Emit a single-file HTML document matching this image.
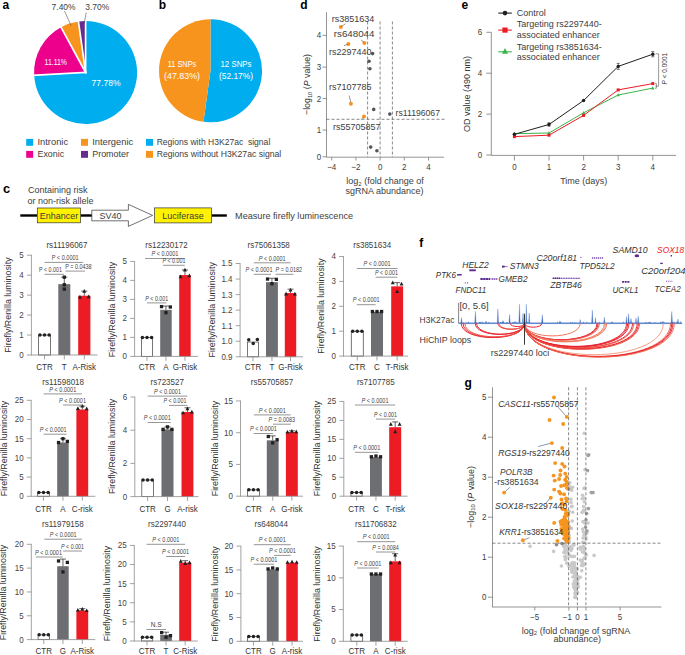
<!DOCTYPE html>
<html><head><meta charset="utf-8"><style>
html,body{margin:0;padding:0;background:#fff;}
svg{display:block;font-family:"Liberation Sans",sans-serif;}
</style></head><body>
<svg width="685" height="655" viewBox="0 0 685 655" fill="#333">
<text x="2.4" y="8.8" font-size="12" font-weight="bold" fill="#000">a</text>
<text x="158.8" y="8.8" font-size="12" font-weight="bold" fill="#000">b</text>
<text x="300.3" y="8.8" font-size="12" font-weight="bold" fill="#000">d</text>
<text x="461.5" y="8.6" font-size="12" font-weight="bold" fill="#000">e</text>
<text x="2.9" y="193" font-size="12.5" font-weight="bold" fill="#000" textLength="7.2" lengthAdjust="spacingAndGlyphs">c</text>
<text x="419.3" y="246.8" font-size="12" font-weight="bold" fill="#000">f</text>
<text x="464.6" y="386.6" font-size="12" font-weight="bold" fill="#000">g</text>
<path d="M85.6 72.5L85.6 21A51.5 51.5 0 1 1 34.17 75.2Z" fill="#00AEEF" stroke="none" stroke-width="0" stroke-linejoin="miter"/>
<path d="M85.6 72.5L34.17 75.2A51.5 51.5 0 0 1 61.03 27.24Z" fill="#EC008C" stroke="none" stroke-width="0" stroke-linejoin="miter"/>
<path d="M85.6 72.5L61.03 27.24A51.5 51.5 0 0 1 78.43 21.5Z" fill="#F7941D" stroke="none" stroke-width="0" stroke-linejoin="miter"/>
<path d="M85.6 72.5L78.43 21.5A51.5 51.5 0 0 1 85.6 21Z" fill="#662D91" stroke="none" stroke-width="0" stroke-linejoin="miter"/>
<line x1="85.6" y1="72.5" x2="85.6" y2="20" stroke="#fff" stroke-width="1.7" stroke-linecap="square"/>
<line x1="85.6" y1="72.5" x2="33.17" y2="75.25" stroke="#fff" stroke-width="1.7" stroke-linecap="square"/>
<line x1="85.6" y1="72.5" x2="60.55" y2="26.36" stroke="#fff" stroke-width="1.7" stroke-linecap="square"/>
<line x1="85.6" y1="72.5" x2="78.29" y2="20.51" stroke="#fff" stroke-width="1.7" stroke-linecap="square"/>
<text x="55.8" y="65.2" font-size="8.76" text-anchor="middle" fill="#fff" textLength="22.5" lengthAdjust="spacingAndGlyphs">11.11%</text>
<text x="106" y="85.5" font-size="8.76" text-anchor="middle" fill="#fff" textLength="29" lengthAdjust="spacingAndGlyphs">77.78%</text>
<text x="63.6" y="9.8" font-size="8.76" text-anchor="middle" fill="#3d3d3d" textLength="24" lengthAdjust="spacingAndGlyphs">7.40%</text>
<text x="97.2" y="9.8" font-size="8.76" text-anchor="middle" fill="#3d3d3d" textLength="24" lengthAdjust="spacingAndGlyphs">3.70%</text>
<line x1="64.5" y1="11" x2="71" y2="25.5" stroke="#333" stroke-width="0.5"/>
<line x1="86.2" y1="12.5" x2="84.2" y2="23.5" stroke="#333" stroke-width="0.5"/>
<rect x="26.2" y="138.9" width="7" height="6.9" fill="#00AEEF"/>
<text x="37.5" y="145.1" font-size="9.27" fill="#3d3d3d" textLength="30.6" lengthAdjust="spacingAndGlyphs">Intronic</text>
<rect x="26.2" y="150.9" width="7" height="6.9" fill="#EC008C"/>
<text x="37.5" y="157.1" font-size="9.27" fill="#3d3d3d" textLength="26.6" lengthAdjust="spacingAndGlyphs">Exonic</text>
<rect x="81" y="138.9" width="7" height="6.9" fill="#F7941D"/>
<text x="92.2" y="145.1" font-size="9.27" fill="#3d3d3d" textLength="41" lengthAdjust="spacingAndGlyphs">Intergenic</text>
<rect x="81" y="150.9" width="7" height="6.9" fill="#662D91"/>
<text x="92.2" y="157.1" font-size="9.27" fill="#3d3d3d" textLength="36.8" lengthAdjust="spacingAndGlyphs">Promoter</text>
<path d="M210.5 70.8L210.5 19.3A51.5 51.5 0 1 1 203.51 121.82Z" fill="#00AEEF" stroke="none" stroke-width="0" stroke-linejoin="miter"/>
<path d="M210.5 70.8L203.51 121.82A51.5 51.5 0 0 1 210.5 19.3Z" fill="#F7941D" stroke="none" stroke-width="0" stroke-linejoin="miter"/>
<text x="182" y="66.9" font-size="8.76" text-anchor="middle" fill="#fff" textLength="28.5" lengthAdjust="spacingAndGlyphs">11 SNPs</text>
<text x="182" y="79" font-size="8.76" text-anchor="middle" fill="#fff" textLength="36" lengthAdjust="spacingAndGlyphs">(47.83%)</text>
<text x="236" y="66.9" font-size="8.76" text-anchor="middle" fill="#fff" textLength="31" lengthAdjust="spacingAndGlyphs">12 SNPs</text>
<text x="236" y="79" font-size="8.76" text-anchor="middle" fill="#fff" textLength="34" lengthAdjust="spacingAndGlyphs">(52.17%)</text>
<rect x="146" y="138.9" width="7" height="6.9" fill="#00AEEF"/>
<text x="156.7" y="145.1" font-size="9.27" fill="#3d3d3d" textLength="113.6" lengthAdjust="spacingAndGlyphs">Regions with H3K27ac&#160; signal</text>
<rect x="146" y="150.9" width="7" height="6.9" fill="#F7941D"/>
<text x="156.7" y="157.1" font-size="9.27" fill="#3d3d3d" textLength="124.6" lengthAdjust="spacingAndGlyphs">Regions without H3K27ac signal</text>
<line x1="326.5" y1="12.2" x2="326.5" y2="157.2" stroke="#7a7a7a" stroke-width="0.8"/>
<line x1="326.5" y1="157.2" x2="444" y2="157.2" stroke="#7a7a7a" stroke-width="0.8"/>
<line x1="322.5" y1="35.4" x2="326.5" y2="35.4" stroke="#7a7a7a" stroke-width="0.8"/>
<text x="321.3" y="38.4" font-size="8.96" text-anchor="end" fill="#3d3d3d" textLength="4.45" lengthAdjust="spacingAndGlyphs">4</text>
<line x1="322.5" y1="67.1" x2="326.5" y2="67.1" stroke="#7a7a7a" stroke-width="0.8"/>
<text x="321.3" y="70.1" font-size="8.96" text-anchor="end" fill="#3d3d3d" textLength="4.45" lengthAdjust="spacingAndGlyphs">3</text>
<line x1="322.5" y1="98.6" x2="326.5" y2="98.6" stroke="#7a7a7a" stroke-width="0.8"/>
<text x="321.3" y="101.6" font-size="8.96" text-anchor="end" fill="#3d3d3d" textLength="4.45" lengthAdjust="spacingAndGlyphs">2</text>
<line x1="322.5" y1="130" x2="326.5" y2="130" stroke="#7a7a7a" stroke-width="0.8"/>
<text x="321.3" y="133" font-size="8.96" text-anchor="end" fill="#3d3d3d" textLength="4.45" lengthAdjust="spacingAndGlyphs">1</text>
<line x1="322.5" y1="156.8" x2="326.5" y2="156.8" stroke="#7a7a7a" stroke-width="0.8"/>
<text x="321.3" y="159.8" font-size="8.96" text-anchor="end" fill="#3d3d3d" textLength="4.45" lengthAdjust="spacingAndGlyphs">0</text>
<line x1="331.7" y1="157.2" x2="331.7" y2="160.5" stroke="#7a7a7a" stroke-width="0.8"/>
<text x="331.7" y="170" font-size="8.96" text-anchor="middle" fill="#3d3d3d" textLength="9.12" lengthAdjust="spacingAndGlyphs">−4</text>
<line x1="355.9" y1="157.2" x2="355.9" y2="160.5" stroke="#7a7a7a" stroke-width="0.8"/>
<text x="355.9" y="170" font-size="8.96" text-anchor="middle" fill="#3d3d3d" textLength="9.12" lengthAdjust="spacingAndGlyphs">−2</text>
<line x1="380.1" y1="157.2" x2="380.1" y2="160.5" stroke="#7a7a7a" stroke-width="0.8"/>
<text x="380.1" y="170" font-size="8.96" text-anchor="middle" fill="#3d3d3d" textLength="4.45" lengthAdjust="spacingAndGlyphs">0</text>
<line x1="404.3" y1="157.2" x2="404.3" y2="160.5" stroke="#7a7a7a" stroke-width="0.8"/>
<text x="404.3" y="170" font-size="8.96" text-anchor="middle" fill="#3d3d3d" textLength="4.45" lengthAdjust="spacingAndGlyphs">2</text>
<line x1="428.5" y1="157.2" x2="428.5" y2="160.5" stroke="#7a7a7a" stroke-width="0.8"/>
<text x="428.5" y="170" font-size="8.96" text-anchor="middle" fill="#3d3d3d" textLength="4.45" lengthAdjust="spacingAndGlyphs">4</text>
<line x1="367.6" y1="21.5" x2="367.6" y2="157" stroke="#555" stroke-width="0.7" stroke-dasharray="3 2"/>
<line x1="380.1" y1="21.5" x2="380.1" y2="157" stroke="#555" stroke-width="0.7" stroke-dasharray="3 2"/>
<line x1="392.4" y1="21.5" x2="392.4" y2="157" stroke="#555" stroke-width="0.7" stroke-dasharray="3 2"/>
<line x1="326.5" y1="119.3" x2="445" y2="119.3" stroke="#555" stroke-width="0.7" stroke-dasharray="3 2"/>
<circle cx="372.6" cy="53.6" r="1.8" fill="#555"/>
<circle cx="369" cy="61.2" r="1.8" fill="#555"/>
<circle cx="369.9" cy="68.7" r="1.8" fill="#555"/>
<circle cx="373.7" cy="109.4" r="1.8" fill="#555"/>
<circle cx="389.8" cy="114.1" r="1.8" fill="#555"/>
<circle cx="370.7" cy="147.1" r="1.8" fill="#555"/>
<circle cx="376.9" cy="150.8" r="1.8" fill="#555"/>
<circle cx="340.8" cy="27.1" r="2" fill="#F7941D"/>
<circle cx="348.4" cy="43.9" r="2" fill="#F7941D"/>
<circle cx="364.4" cy="43" r="2" fill="#F7941D"/>
<circle cx="350.9" cy="103.7" r="2" fill="#F7941D"/>
<circle cx="364" cy="116.6" r="2" fill="#F7941D"/>
<line x1="341.5" y1="26.5" x2="345.5" y2="23.7" stroke="#333" stroke-width="0.5"/>
<line x1="347.6" y1="44.5" x2="344" y2="45.6" stroke="#333" stroke-width="0.5"/>
<line x1="363.6" y1="42.3" x2="360.9" y2="39.8" stroke="#333" stroke-width="0.5"/>
<line x1="350.6" y1="102" x2="349.2" y2="95.5" stroke="#333" stroke-width="0.5"/>
<line x1="363" y1="117.5" x2="361" y2="119.5" stroke="#333" stroke-width="0.5"/>
<text x="331.7" y="21.9" font-size="9.27" fill="#3d3d3d" textLength="42.53" lengthAdjust="spacingAndGlyphs">rs3851634</text>
<text x="333.8" y="37.1" font-size="9.27" fill="#3d3d3d" textLength="40.6" lengthAdjust="spacingAndGlyphs">rs648044</text>
<text x="329.1" y="54.6" font-size="9.27" fill="#3d3d3d" textLength="42.53" lengthAdjust="spacingAndGlyphs">rs2297440</text>
<text x="329" y="90.2" font-size="9.27" fill="#3d3d3d" textLength="42.53" lengthAdjust="spacingAndGlyphs">rs7107785</text>
<text x="333" y="129.7" font-size="9.27" fill="#3d3d3d" textLength="47.54" lengthAdjust="spacingAndGlyphs">rs55705857</text>
<text x="395.6" y="116" font-size="9.27" fill="#3d3d3d" textLength="44.4" lengthAdjust="spacingAndGlyphs">rs11196067</text>
<text transform="translate(310.2 84.5) rotate(-90)" font-size="9.2" text-anchor="middle" fill="#333" textLength="61" lengthAdjust="spacingAndGlyphs">−log<tspan font-size="6" dy="1.5">10</tspan><tspan dy="-1.5"> (</tspan><tspan font-style="italic">P</tspan> value)</text>
<text x="385" y="184" font-size="9" text-anchor="middle" fill="#3d3d3d">log<tspan font-size="6" dy="1.5">2</tspan><tspan dy="-1.5"> (fold change of</tspan></text>
<text x="384.6" y="193.5" font-size="9.27" text-anchor="middle" fill="#3d3d3d" textLength="78.05" lengthAdjust="spacingAndGlyphs">sgRNA abundance)</text>
<line x1="491.3" y1="32.3" x2="491.3" y2="155.4" stroke="#7a7a7a" stroke-width="0.8"/>
<line x1="491.3" y1="155.4" x2="676" y2="155.4" stroke="#7a7a7a" stroke-width="0.8"/>
<line x1="486.3" y1="155" x2="491.3" y2="155" stroke="#7a7a7a" stroke-width="0.8"/>
<text x="482.3" y="158" font-size="8.96" text-anchor="end" fill="#3d3d3d" textLength="4.45" lengthAdjust="spacingAndGlyphs">0</text>
<line x1="486.3" y1="114.1" x2="491.3" y2="114.1" stroke="#7a7a7a" stroke-width="0.8"/>
<text x="482.3" y="117.1" font-size="8.96" text-anchor="end" fill="#3d3d3d" textLength="4.45" lengthAdjust="spacingAndGlyphs">2</text>
<line x1="486.3" y1="73.2" x2="491.3" y2="73.2" stroke="#7a7a7a" stroke-width="0.8"/>
<text x="482.3" y="76.2" font-size="8.96" text-anchor="end" fill="#3d3d3d" textLength="4.45" lengthAdjust="spacingAndGlyphs">4</text>
<line x1="486.3" y1="32.3" x2="491.3" y2="32.3" stroke="#7a7a7a" stroke-width="0.8"/>
<text x="482.3" y="35.3" font-size="8.96" text-anchor="end" fill="#3d3d3d" textLength="4.45" lengthAdjust="spacingAndGlyphs">6</text>
<line x1="514.4" y1="155.4" x2="514.4" y2="160.5" stroke="#7a7a7a" stroke-width="0.8"/>
<text x="514.4" y="169.8" font-size="8.96" text-anchor="middle" fill="#3d3d3d" textLength="4.45" lengthAdjust="spacingAndGlyphs">0</text>
<line x1="549" y1="155.4" x2="549" y2="160.5" stroke="#7a7a7a" stroke-width="0.8"/>
<text x="549" y="169.8" font-size="8.96" text-anchor="middle" fill="#3d3d3d" textLength="4.45" lengthAdjust="spacingAndGlyphs">1</text>
<line x1="583.6" y1="155.4" x2="583.6" y2="160.5" stroke="#7a7a7a" stroke-width="0.8"/>
<text x="583.6" y="169.8" font-size="8.96" text-anchor="middle" fill="#3d3d3d" textLength="4.45" lengthAdjust="spacingAndGlyphs">2</text>
<line x1="618.2" y1="155.4" x2="618.2" y2="160.5" stroke="#7a7a7a" stroke-width="0.8"/>
<text x="618.2" y="169.8" font-size="8.96" text-anchor="middle" fill="#3d3d3d" textLength="4.45" lengthAdjust="spacingAndGlyphs">3</text>
<line x1="652.8" y1="155.4" x2="652.8" y2="160.5" stroke="#7a7a7a" stroke-width="0.8"/>
<text x="652.8" y="169.8" font-size="8.96" text-anchor="middle" fill="#3d3d3d" textLength="4.45" lengthAdjust="spacingAndGlyphs">4</text>
<text x="583.8" y="184.2" font-size="9.27" text-anchor="middle" fill="#3d3d3d" textLength="47.17" lengthAdjust="spacingAndGlyphs">Time (days)</text>
<text transform="translate(469.5 94) rotate(-90)" font-size="9" text-anchor="middle" fill="#333">OD value (490 nm)</text>
<polyline points="514.4,133.7 549,133 583.6,112.8 618.2,95 652.8,88.1" fill="none" stroke="#39B54A" stroke-width="1"/>
<polyline points="514.4,136.6 549,135.2 583.6,115.4 618.2,89.9 652.8,83.6" fill="none" stroke="#ED1C24" stroke-width="1"/>
<polyline points="514.4,134.3 549,124.5 583.6,100.5 618.2,66.4 652.8,54.2" fill="none" stroke="#231F20" stroke-width="1"/>
<path d="M514.4 131.83L516.1 135.06L512.7 135.06Z" fill="#39B54A"/>
<path d="M549 131.13L550.7 134.36L547.3 134.36Z" fill="#39B54A"/>
<path d="M583.6 110.93L585.3 114.16L581.9 114.16Z" fill="#39B54A"/>
<path d="M618.2 93.13L619.9 96.36L616.5 96.36Z" fill="#39B54A"/>
<path d="M652.8 86.23L654.5 89.46L651.1 89.46Z" fill="#39B54A"/>
<rect x="512.9" y="135.1" width="3" height="3" fill="#ED1C24"/>
<rect x="547.5" y="133.7" width="3" height="3" fill="#ED1C24"/>
<rect x="582.1" y="113.9" width="3" height="3" fill="#ED1C24"/>
<rect x="616.7" y="88.4" width="3" height="3" fill="#ED1C24"/>
<rect x="651.3" y="82.1" width="3" height="3" fill="#ED1C24"/>
<circle cx="514.4" cy="134.3" r="1.7" fill="#231F20"/>
<circle cx="549" cy="124.5" r="1.7" fill="#231F20"/>
<circle cx="583.6" cy="100.5" r="1.7" fill="#231F20"/>
<circle cx="618.2" cy="66.4" r="1.7" fill="#231F20"/>
<circle cx="652.8" cy="54.2" r="1.7" fill="#231F20"/>
<line x1="618.2" y1="63.4" x2="618.2" y2="69.4" stroke="#231F20" stroke-width="0.6"/>
<line x1="616.7" y1="63.4" x2="619.7" y2="63.4" stroke="#231F20" stroke-width="0.6"/>
<line x1="616.7" y1="69.4" x2="619.7" y2="69.4" stroke="#231F20" stroke-width="0.6"/>
<line x1="652.8" y1="51.6" x2="652.8" y2="56.8" stroke="#231F20" stroke-width="0.6"/>
<line x1="651.3" y1="51.6" x2="654.3" y2="51.6" stroke="#231F20" stroke-width="0.6"/>
<line x1="651.3" y1="56.8" x2="654.3" y2="56.8" stroke="#231F20" stroke-width="0.6"/>
<line x1="549" y1="122.8" x2="549" y2="126.2" stroke="#231F20" stroke-width="0.6"/>
<line x1="547.5" y1="122.8" x2="550.5" y2="122.8" stroke="#231F20" stroke-width="0.6"/>
<line x1="547.5" y1="126.2" x2="550.5" y2="126.2" stroke="#231F20" stroke-width="0.6"/>
<line x1="655.5" y1="53.8" x2="658.6" y2="53.8" stroke="#555" stroke-width="0.6"/>
<line x1="658.6" y1="53.8" x2="658.6" y2="86.2" stroke="#555" stroke-width="0.6"/>
<line x1="655.5" y1="86.2" x2="658.6" y2="86.2" stroke="#555" stroke-width="0.6"/>
<line x1="655" y1="83.6" x2="656.4" y2="83.6" stroke="#555" stroke-width="0.6"/>
<line x1="656.4" y1="83.6" x2="656.4" y2="88.2" stroke="#555" stroke-width="0.6"/>
<line x1="655" y1="88.2" x2="656.4" y2="88.2" stroke="#555" stroke-width="0.6"/>
<text transform="translate(666.8 68.7) rotate(-90)" font-size="6.5" text-anchor="middle" fill="#333"><tspan font-style="italic">P</tspan> &lt; 0.0001</text>
<line x1="498.3" y1="13.1" x2="511.8" y2="13.1" stroke="#231F20" stroke-width="1.1"/>
<circle cx="505" cy="13.1" r="2.3" fill="#231F20"/>
<text x="516.7" y="16.3" font-size="9.27" fill="#3d3d3d" textLength="29.01" lengthAdjust="spacingAndGlyphs">Control</text>
<line x1="498.3" y1="30.1" x2="511.8" y2="30.1" stroke="#ED1C24" stroke-width="1.1"/>
<rect x="502.4" y="27.5" width="5.2" height="5.2" fill="#ED1C24"/>
<text x="516.7" y="27.3" font-size="9.27" fill="#3d3d3d" textLength="85.06" lengthAdjust="spacingAndGlyphs">Targeting rs2297440-</text>
<text x="516.7" y="38" font-size="9.27" fill="#3d3d3d" textLength="83.06" lengthAdjust="spacingAndGlyphs">associated enhancer</text>
<line x1="498.3" y1="51.8" x2="511.8" y2="51.8" stroke="#39B54A" stroke-width="1.1"/>
<path d="M505 48.1L508 53.8L502 53.8Z" fill="#39B54A"/>
<text x="516.7" y="49.5" font-size="9.27" fill="#3d3d3d" textLength="85.06" lengthAdjust="spacingAndGlyphs">Targeting rs3851634-</text>
<text x="516.7" y="60.2" font-size="9.27" fill="#3d3d3d" textLength="83.06" lengthAdjust="spacingAndGlyphs">associated enhancer</text>
<text x="28" y="193" font-size="9.27" fill="#3d3d3d" textLength="59.53" lengthAdjust="spacingAndGlyphs">Containing risk</text>
<text x="27.4" y="203.5" font-size="9.27" fill="#3d3d3d" textLength="66.03" lengthAdjust="spacingAndGlyphs">or non-risk allele</text>
<line x1="20.3" y1="215.5" x2="37" y2="215.5" stroke="#000" stroke-width="2.4"/>
<line x1="80.7" y1="215.5" x2="92" y2="215.5" stroke="#000" stroke-width="2.4"/>
<line x1="211.8" y1="215.5" x2="226.8" y2="215.5" stroke="#000" stroke-width="2.4"/>
<rect x="37.3" y="208" width="43.2" height="14.8" fill="#FFF200" stroke="#333" stroke-width="0.7"/>
<text x="58.9" y="219.2" font-size="9.27" text-anchor="middle" fill="#3d3d3d" textLength="38.53" lengthAdjust="spacingAndGlyphs">Enhancer</text>
<path d="M91.8 210.2H128.4V204.4L152.6 215.4L128.4 226.4V220.8H91.8Z" fill="#fff" stroke="#333" stroke-width="0.7"/>
<text x="110.5" y="219" font-size="9.27" text-anchor="middle" fill="#3d3d3d" textLength="22.02" lengthAdjust="spacingAndGlyphs">SV40</text>
<rect x="154.6" y="207.9" width="57" height="15" fill="#FFF200" stroke="#333" stroke-width="0.7"/>
<text x="183.1" y="219.2" font-size="9.27" text-anchor="middle" fill="#3d3d3d" textLength="41.52" lengthAdjust="spacingAndGlyphs">Luciferase</text>
<text x="235.1" y="218.9" font-size="9.27" fill="#3d3d3d" textLength="118" lengthAdjust="spacingAndGlyphs">Measure firefly luminescence</text>
<rect x="38.6" y="335.04" width="11.9" height="19.96" fill="#fff" stroke="#555" stroke-width="0.8"/>
<rect x="58.3" y="284.14" width="12" height="70.86" fill="#6D6E71"/>
<rect x="78.2" y="295.72" width="12.2" height="59.28" fill="#ED1C24"/>
<circle cx="39.95" cy="335.04" r="1.75" fill="#231F20"/>
<circle cx="44.55" cy="335.04" r="1.75" fill="#231F20"/>
<circle cx="49.15" cy="335.04" r="1.75" fill="#231F20"/>
<line x1="64.3" y1="284.14" x2="64.3" y2="277.16" stroke="#231F20" stroke-width="0.7"/>
<line x1="61.3" y1="277.16" x2="67.3" y2="277.16" stroke="#231F20" stroke-width="0.7"/>
<rect x="62.65" y="275.51" width="3.3" height="3.3" fill="#231F20"/>
<rect x="62.65" y="283.09" width="3.3" height="3.3" fill="#231F20"/>
<rect x="62.65" y="287.48" width="3.3" height="3.3" fill="#231F20"/>
<line x1="84.3" y1="295.72" x2="84.3" y2="291.13" stroke="#231F20" stroke-width="0.7"/>
<line x1="81.3" y1="291.13" x2="87.3" y2="291.13" stroke="#231F20" stroke-width="0.7"/>
<path d="M84.3 288.98L86.25 292.69L82.35 292.69Z" fill="#231F20"/>
<path d="M79.9 294.97L81.85 298.68L77.95 298.68Z" fill="#231F20"/>
<path d="M88.7 294.57L90.65 298.28L86.75 298.28Z" fill="#231F20"/>
<line x1="31.4" y1="254.8" x2="31.4" y2="355.4" stroke="#8C8C8C" stroke-width="0.8"/>
<line x1="31.4" y1="355" x2="97.5" y2="355" stroke="#8C8C8C" stroke-width="0.8"/>
<line x1="27" y1="355" x2="31.4" y2="355" stroke="#8C8C8C" stroke-width="0.8"/>
<text x="23.8" y="357.9" font-size="8.96" text-anchor="end" fill="#444" textLength="4.45" lengthAdjust="spacingAndGlyphs">0</text>
<line x1="27" y1="335.04" x2="31.4" y2="335.04" stroke="#8C8C8C" stroke-width="0.8"/>
<text x="23.8" y="337.94" font-size="8.96" text-anchor="end" fill="#444" textLength="4.45" lengthAdjust="spacingAndGlyphs">1</text>
<line x1="27" y1="315.08" x2="31.4" y2="315.08" stroke="#8C8C8C" stroke-width="0.8"/>
<text x="23.8" y="317.98" font-size="8.96" text-anchor="end" fill="#444" textLength="4.45" lengthAdjust="spacingAndGlyphs">2</text>
<line x1="27" y1="295.12" x2="31.4" y2="295.12" stroke="#8C8C8C" stroke-width="0.8"/>
<text x="23.8" y="298.02" font-size="8.96" text-anchor="end" fill="#444" textLength="4.45" lengthAdjust="spacingAndGlyphs">3</text>
<line x1="27" y1="275.16" x2="31.4" y2="275.16" stroke="#8C8C8C" stroke-width="0.8"/>
<text x="23.8" y="278.06" font-size="8.96" text-anchor="end" fill="#444" textLength="4.45" lengthAdjust="spacingAndGlyphs">4</text>
<line x1="27" y1="255.2" x2="31.4" y2="255.2" stroke="#8C8C8C" stroke-width="0.8"/>
<text x="23.8" y="258.1" font-size="8.96" text-anchor="end" fill="#444" textLength="4.45" lengthAdjust="spacingAndGlyphs">5</text>
<line x1="44.55" y1="355" x2="44.55" y2="359.4" stroke="#8C8C8C" stroke-width="0.8"/>
<text x="44.55" y="370" font-size="8.96" text-anchor="middle" fill="#333" textLength="16.44" lengthAdjust="spacingAndGlyphs">CTR</text>
<line x1="64.3" y1="355" x2="64.3" y2="359.4" stroke="#8C8C8C" stroke-width="0.8"/>
<text x="64.3" y="370" font-size="8.96" text-anchor="middle" fill="#333" textLength="4.89" lengthAdjust="spacingAndGlyphs">T</text>
<line x1="84.3" y1="355" x2="84.3" y2="359.4" stroke="#8C8C8C" stroke-width="0.8"/>
<text x="84.3" y="370" font-size="8.96" text-anchor="middle" fill="#333" textLength="23.55" lengthAdjust="spacingAndGlyphs">A-Risk</text>
<text x="67" y="248" font-size="8.96" text-anchor="middle" fill="#3d3d3d" textLength="41.07" lengthAdjust="spacingAndGlyphs">rs11196067</text>
<text transform="translate(10.8 305) rotate(-90)" font-size="8.85" text-anchor="middle" fill="#333">Firefly/Renilla luminosity</text>
<line x1="44.5" y1="262.4" x2="83.2" y2="262.4" stroke="#8a8a8a" stroke-width="0.9"/>
<text x="65.2" y="260.1" font-size="6.72" text-anchor="middle" fill="#444" textLength="27" lengthAdjust="spacingAndGlyphs">P < 0.0001</text>
<line x1="44.5" y1="274.3" x2="63.9" y2="274.3" stroke="#8a8a8a" stroke-width="0.9"/>
<text x="50.5" y="272" font-size="6.72" text-anchor="middle" fill="#444" textLength="23" lengthAdjust="spacingAndGlyphs">P < 0.001</text>
<line x1="65.5" y1="271.1" x2="85" y2="271.1" stroke="#8a8a8a" stroke-width="0.9"/>
<text x="78.4" y="268.8" font-size="6.72" text-anchor="middle" fill="#444" textLength="26.5" lengthAdjust="spacingAndGlyphs">P = 0.0438</text>
<rect x="141.5" y="337.4" width="11" height="19" fill="#fff" stroke="#555" stroke-width="0.8"/>
<rect x="160.2" y="309.85" width="11.5" height="46.55" fill="#6D6E71"/>
<rect x="179.2" y="275.08" width="11.5" height="81.32" fill="#ED1C24"/>
<circle cx="142.4" cy="337.4" r="1.75" fill="#231F20"/>
<circle cx="147" cy="337.4" r="1.75" fill="#231F20"/>
<circle cx="151.6" cy="337.4" r="1.75" fill="#231F20"/>
<line x1="165.95" y1="309.85" x2="165.95" y2="306.05" stroke="#231F20" stroke-width="0.7"/>
<line x1="162.95" y1="306.05" x2="168.95" y2="306.05" stroke="#231F20" stroke-width="0.7"/>
<rect x="159.9" y="304.97" width="3.3" height="3.3" fill="#231F20"/>
<rect x="168.7" y="305.35" width="3.3" height="3.3" fill="#231F20"/>
<rect x="164.3" y="311.05" width="3.3" height="3.3" fill="#231F20"/>
<line x1="184.95" y1="275.08" x2="184.95" y2="269.95" stroke="#231F20" stroke-width="0.7"/>
<line x1="181.95" y1="269.95" x2="187.95" y2="269.95" stroke="#231F20" stroke-width="0.7"/>
<path d="M184.95 267.81L186.9 271.51L183 271.51Z" fill="#231F20"/>
<path d="M180.55 274.45L182.5 278.16L178.6 278.16Z" fill="#231F20"/>
<path d="M189.35 273.5L191.3 277.21L187.4 277.21Z" fill="#231F20"/>
<line x1="134.6" y1="261" x2="134.6" y2="356.8" stroke="#8C8C8C" stroke-width="0.8"/>
<line x1="134.6" y1="356.4" x2="198" y2="356.4" stroke="#8C8C8C" stroke-width="0.8"/>
<line x1="130.2" y1="356.4" x2="134.6" y2="356.4" stroke="#8C8C8C" stroke-width="0.8"/>
<text x="127" y="359.3" font-size="8.96" text-anchor="end" fill="#444" textLength="4.45" lengthAdjust="spacingAndGlyphs">0</text>
<line x1="130.2" y1="337.4" x2="134.6" y2="337.4" stroke="#8C8C8C" stroke-width="0.8"/>
<text x="127" y="340.3" font-size="8.96" text-anchor="end" fill="#444" textLength="4.45" lengthAdjust="spacingAndGlyphs">1</text>
<line x1="130.2" y1="318.4" x2="134.6" y2="318.4" stroke="#8C8C8C" stroke-width="0.8"/>
<text x="127" y="321.3" font-size="8.96" text-anchor="end" fill="#444" textLength="4.45" lengthAdjust="spacingAndGlyphs">2</text>
<line x1="130.2" y1="299.4" x2="134.6" y2="299.4" stroke="#8C8C8C" stroke-width="0.8"/>
<text x="127" y="302.3" font-size="8.96" text-anchor="end" fill="#444" textLength="4.45" lengthAdjust="spacingAndGlyphs">3</text>
<line x1="130.2" y1="280.4" x2="134.6" y2="280.4" stroke="#8C8C8C" stroke-width="0.8"/>
<text x="127" y="283.3" font-size="8.96" text-anchor="end" fill="#444" textLength="4.45" lengthAdjust="spacingAndGlyphs">4</text>
<line x1="130.2" y1="261.4" x2="134.6" y2="261.4" stroke="#8C8C8C" stroke-width="0.8"/>
<text x="127" y="264.3" font-size="8.96" text-anchor="end" fill="#444" textLength="4.45" lengthAdjust="spacingAndGlyphs">5</text>
<line x1="147" y1="356.4" x2="147" y2="360.8" stroke="#8C8C8C" stroke-width="0.8"/>
<text x="147" y="370.2" font-size="8.96" text-anchor="middle" fill="#333" textLength="16.44" lengthAdjust="spacingAndGlyphs">CTR</text>
<line x1="165.95" y1="356.4" x2="165.95" y2="360.8" stroke="#8C8C8C" stroke-width="0.8"/>
<text x="165.95" y="370.2" font-size="8.96" text-anchor="middle" fill="#333" textLength="5.34" lengthAdjust="spacingAndGlyphs">A</text>
<line x1="184.95" y1="356.4" x2="184.95" y2="360.8" stroke="#8C8C8C" stroke-width="0.8"/>
<text x="184.95" y="370.2" font-size="8.96" text-anchor="middle" fill="#333" textLength="24.44" lengthAdjust="spacingAndGlyphs">G-Risk</text>
<text x="166.5" y="248" font-size="8.96" text-anchor="middle" fill="#3d3d3d" textLength="42.26" lengthAdjust="spacingAndGlyphs">rs12230172</text>
<text transform="translate(115.3 309.5) rotate(-90)" font-size="8.85" text-anchor="middle" fill="#333">Firefly/Renilla luminosity</text>
<line x1="145" y1="258.5" x2="184.8" y2="258.5" stroke="#8a8a8a" stroke-width="0.9"/>
<text x="164.9" y="256.2" font-size="6.72" text-anchor="middle" fill="#444" textLength="27" lengthAdjust="spacingAndGlyphs"><tspan font-style="italic">P</tspan> < 0.0001</text>
<line x1="163" y1="265.3" x2="184.8" y2="265.3" stroke="#8a8a8a" stroke-width="0.9"/>
<text x="173.9" y="263" font-size="6.72" text-anchor="middle" fill="#444" textLength="23" lengthAdjust="spacingAndGlyphs"><tspan font-style="italic">P</tspan> < 0.001</text>
<line x1="147" y1="302.9" x2="166.5" y2="302.9" stroke="#8a8a8a" stroke-width="0.9"/>
<text x="156.75" y="300.6" font-size="6.72" text-anchor="middle" fill="#444" textLength="23" lengthAdjust="spacingAndGlyphs"><tspan font-style="italic">P</tspan> < 0.001</text>
<rect x="247.4" y="342.03" width="11.1" height="14.77" fill="#fff" stroke="#555" stroke-width="0.8"/>
<rect x="266" y="282.16" width="11.9" height="74.64" fill="#6D6E71"/>
<rect x="284.8" y="293.05" width="11.4" height="63.75" fill="#ED1C24"/>
<circle cx="248.75" cy="339.69" r="1.75" fill="#231F20"/>
<circle cx="257.35" cy="339.38" r="1.75" fill="#231F20"/>
<circle cx="253.25" cy="343.58" r="1.75" fill="#231F20"/>
<line x1="271.95" y1="282.16" x2="271.95" y2="278.27" stroke="#231F20" stroke-width="0.7"/>
<line x1="268.95" y1="278.27" x2="274.95" y2="278.27" stroke="#231F20" stroke-width="0.7"/>
<rect x="265.9" y="277.4" width="3.3" height="3.3" fill="#231F20"/>
<rect x="274.7" y="277.71" width="3.3" height="3.3" fill="#231F20"/>
<rect x="270.3" y="282.07" width="3.3" height="3.3" fill="#231F20"/>
<line x1="290.5" y1="293.05" x2="290.5" y2="289.16" stroke="#231F20" stroke-width="0.7"/>
<line x1="287.5" y1="289.16" x2="293.5" y2="289.16" stroke="#231F20" stroke-width="0.7"/>
<path d="M290.5 287.79L292.45 291.5L288.55 291.5Z" fill="#231F20"/>
<path d="M286.1 291.68L288.05 295.38L284.15 295.38Z" fill="#231F20"/>
<path d="M294.9 291.68L296.85 295.38L292.95 295.38Z" fill="#231F20"/>
<line x1="240.1" y1="263.1" x2="240.1" y2="357.2" stroke="#8C8C8C" stroke-width="0.8"/>
<line x1="240.1" y1="356.8" x2="303" y2="356.8" stroke="#8C8C8C" stroke-width="0.8"/>
<line x1="235.7" y1="356.8" x2="240.1" y2="356.8" stroke="#8C8C8C" stroke-width="0.8"/>
<text x="232.5" y="359.7" font-size="8.96" text-anchor="end" fill="#444" textLength="11.12" lengthAdjust="spacingAndGlyphs">0.9</text>
<line x1="235.7" y1="341.25" x2="240.1" y2="341.25" stroke="#8C8C8C" stroke-width="0.8"/>
<text x="232.5" y="344.15" font-size="8.96" text-anchor="end" fill="#444" textLength="11.12" lengthAdjust="spacingAndGlyphs">1.0</text>
<line x1="235.7" y1="325.7" x2="240.1" y2="325.7" stroke="#8C8C8C" stroke-width="0.8"/>
<text x="232.5" y="328.6" font-size="8.96" text-anchor="end" fill="#444" textLength="11.12" lengthAdjust="spacingAndGlyphs">1.1</text>
<line x1="235.7" y1="310.15" x2="240.1" y2="310.15" stroke="#8C8C8C" stroke-width="0.8"/>
<text x="232.5" y="313.05" font-size="8.96" text-anchor="end" fill="#444" textLength="11.12" lengthAdjust="spacingAndGlyphs">1.2</text>
<line x1="235.7" y1="294.6" x2="240.1" y2="294.6" stroke="#8C8C8C" stroke-width="0.8"/>
<text x="232.5" y="297.5" font-size="8.96" text-anchor="end" fill="#444" textLength="11.12" lengthAdjust="spacingAndGlyphs">1.3</text>
<line x1="235.7" y1="279.05" x2="240.1" y2="279.05" stroke="#8C8C8C" stroke-width="0.8"/>
<text x="232.5" y="281.95" font-size="8.96" text-anchor="end" fill="#444" textLength="11.12" lengthAdjust="spacingAndGlyphs">1.4</text>
<line x1="235.7" y1="263.5" x2="240.1" y2="263.5" stroke="#8C8C8C" stroke-width="0.8"/>
<text x="232.5" y="266.4" font-size="8.96" text-anchor="end" fill="#444" textLength="11.12" lengthAdjust="spacingAndGlyphs">1.5</text>
<line x1="252.95" y1="356.8" x2="252.95" y2="361.2" stroke="#8C8C8C" stroke-width="0.8"/>
<text x="252.95" y="370.2" font-size="8.96" text-anchor="middle" fill="#333" textLength="16.44" lengthAdjust="spacingAndGlyphs">CTR</text>
<line x1="271.95" y1="356.8" x2="271.95" y2="361.2" stroke="#8C8C8C" stroke-width="0.8"/>
<text x="271.95" y="370.2" font-size="8.96" text-anchor="middle" fill="#333" textLength="4.89" lengthAdjust="spacingAndGlyphs">T</text>
<line x1="290.5" y1="356.8" x2="290.5" y2="361.2" stroke="#8C8C8C" stroke-width="0.8"/>
<text x="290.5" y="370.2" font-size="8.96" text-anchor="middle" fill="#333" textLength="24.44" lengthAdjust="spacingAndGlyphs">G-Risk</text>
<text x="268.7" y="248" font-size="8.96" text-anchor="middle" fill="#3d3d3d" textLength="42.26" lengthAdjust="spacingAndGlyphs">rs75061358</text>
<text transform="translate(215.2 309.8) rotate(-90)" font-size="8.85" text-anchor="middle" fill="#333">Firefly/Renilla luminosity</text>
<line x1="253.8" y1="262.8" x2="290.5" y2="262.8" stroke="#8a8a8a" stroke-width="0.9"/>
<text x="272.15" y="260.5" font-size="6.72" text-anchor="middle" fill="#444" textLength="27" lengthAdjust="spacingAndGlyphs"><tspan font-style="italic">P</tspan> < 0.0001</text>
<line x1="253.8" y1="274.3" x2="271" y2="274.3" stroke="#8a8a8a" stroke-width="0.9"/>
<text x="259" y="272" font-size="6.72" text-anchor="middle" fill="#444" textLength="27" lengthAdjust="spacingAndGlyphs"><tspan font-style="italic">P</tspan> < 0.0001</text>
<line x1="275.6" y1="274.3" x2="293.5" y2="274.3" stroke="#8a8a8a" stroke-width="0.9"/>
<text x="288.8" y="272" font-size="6.72" text-anchor="middle" fill="#444" textLength="26.5" lengthAdjust="spacingAndGlyphs"><tspan font-style="italic">P</tspan> = 0.0182</text>
<rect x="351.3" y="331.2" width="12" height="24.9" fill="#fff" stroke="#555" stroke-width="0.8"/>
<rect x="371" y="311.78" width="12" height="44.32" fill="#6D6E71"/>
<rect x="391.2" y="286.38" width="11.9" height="69.72" fill="#ED1C24"/>
<circle cx="352.7" cy="331.2" r="1.75" fill="#231F20"/>
<circle cx="357.3" cy="331.2" r="1.75" fill="#231F20"/>
<circle cx="361.9" cy="331.2" r="1.75" fill="#231F20"/>
<rect x="370.75" y="309.88" width="3.3" height="3.3" fill="#231F20"/>
<rect x="375.35" y="309.88" width="3.3" height="3.3" fill="#231F20"/>
<rect x="379.95" y="309.88" width="3.3" height="3.3" fill="#231F20"/>
<line x1="397.15" y1="286.38" x2="397.15" y2="282.65" stroke="#231F20" stroke-width="0.7"/>
<line x1="394.15" y1="282.65" x2="400.15" y2="282.65" stroke="#231F20" stroke-width="0.7"/>
<path d="M392.75 280.5L394.7 284.21L390.8 284.21Z" fill="#231F20"/>
<path d="M401.55 281.75L403.5 285.45L399.6 285.45Z" fill="#231F20"/>
<path d="M397.15 289.22L399.1 292.92L395.2 292.92Z" fill="#231F20"/>
<line x1="343.5" y1="256.1" x2="343.5" y2="356.5" stroke="#8C8C8C" stroke-width="0.8"/>
<line x1="343.5" y1="356.1" x2="408" y2="356.1" stroke="#8C8C8C" stroke-width="0.8"/>
<line x1="339.1" y1="356.1" x2="343.5" y2="356.1" stroke="#8C8C8C" stroke-width="0.8"/>
<text x="335.9" y="359" font-size="8.96" text-anchor="end" fill="#444" textLength="4.45" lengthAdjust="spacingAndGlyphs">0</text>
<line x1="339.1" y1="331.2" x2="343.5" y2="331.2" stroke="#8C8C8C" stroke-width="0.8"/>
<text x="335.9" y="334.1" font-size="8.96" text-anchor="end" fill="#444" textLength="4.45" lengthAdjust="spacingAndGlyphs">1</text>
<line x1="339.1" y1="306.3" x2="343.5" y2="306.3" stroke="#8C8C8C" stroke-width="0.8"/>
<text x="335.9" y="309.2" font-size="8.96" text-anchor="end" fill="#444" textLength="4.45" lengthAdjust="spacingAndGlyphs">2</text>
<line x1="339.1" y1="281.4" x2="343.5" y2="281.4" stroke="#8C8C8C" stroke-width="0.8"/>
<text x="335.9" y="284.3" font-size="8.96" text-anchor="end" fill="#444" textLength="4.45" lengthAdjust="spacingAndGlyphs">3</text>
<line x1="339.1" y1="256.5" x2="343.5" y2="256.5" stroke="#8C8C8C" stroke-width="0.8"/>
<text x="335.9" y="259.4" font-size="8.96" text-anchor="end" fill="#444" textLength="4.45" lengthAdjust="spacingAndGlyphs">4</text>
<line x1="357.3" y1="356.1" x2="357.3" y2="360.5" stroke="#8C8C8C" stroke-width="0.8"/>
<text x="357.3" y="370.2" font-size="8.96" text-anchor="middle" fill="#333" textLength="16.44" lengthAdjust="spacingAndGlyphs">CTR</text>
<line x1="377" y1="356.1" x2="377" y2="360.5" stroke="#8C8C8C" stroke-width="0.8"/>
<text x="377" y="370.2" font-size="8.96" text-anchor="middle" fill="#333" textLength="5.78" lengthAdjust="spacingAndGlyphs">C</text>
<line x1="397.15" y1="356.1" x2="397.15" y2="360.5" stroke="#8C8C8C" stroke-width="0.8"/>
<text x="397.15" y="370.2" font-size="8.96" text-anchor="middle" fill="#333" textLength="22.66" lengthAdjust="spacingAndGlyphs">T-Risk</text>
<text x="372.2" y="248" font-size="8.96" text-anchor="middle" fill="#3d3d3d" textLength="37.81" lengthAdjust="spacingAndGlyphs">rs3851634</text>
<text transform="translate(323.5 306) rotate(-90)" font-size="8.85" text-anchor="middle" fill="#333">Firefly/Renilla luminosity</text>
<line x1="356.8" y1="268.5" x2="397.4" y2="268.5" stroke="#8a8a8a" stroke-width="0.9"/>
<text x="377.1" y="266.2" font-size="6.72" text-anchor="middle" fill="#444" textLength="27" lengthAdjust="spacingAndGlyphs"><tspan font-style="italic">P</tspan> < 0.0001</text>
<line x1="375.6" y1="277.2" x2="397.4" y2="277.2" stroke="#8a8a8a" stroke-width="0.9"/>
<text x="386.5" y="274.9" font-size="6.72" text-anchor="middle" fill="#444" textLength="23" lengthAdjust="spacingAndGlyphs"><tspan font-style="italic">P</tspan> < 0.001</text>
<line x1="356.8" y1="304.7" x2="375.6" y2="304.7" stroke="#8a8a8a" stroke-width="0.9"/>
<text x="366.2" y="302.4" font-size="6.72" text-anchor="middle" fill="#444" textLength="27" lengthAdjust="spacingAndGlyphs"><tspan font-style="italic">P</tspan> < 0.0001</text>
<rect x="37.6" y="492.46" width="11.8" height="3.84" fill="#fff" stroke="#555" stroke-width="0.8"/>
<rect x="57.2" y="442.54" width="11.5" height="53.76" fill="#6D6E71"/>
<rect x="76.4" y="409.52" width="11.8" height="86.78" fill="#ED1C24"/>
<circle cx="38.9" cy="492.46" r="1.75" fill="#231F20"/>
<circle cx="43.5" cy="492.46" r="1.75" fill="#231F20"/>
<circle cx="48.1" cy="492.46" r="1.75" fill="#231F20"/>
<line x1="62.95" y1="442.54" x2="62.95" y2="438.7" stroke="#231F20" stroke-width="0.7"/>
<line x1="59.95" y1="438.7" x2="65.95" y2="438.7" stroke="#231F20" stroke-width="0.7"/>
<rect x="61.3" y="437.05" width="3.3" height="3.3" fill="#231F20"/>
<rect x="56.9" y="440.89" width="3.3" height="3.3" fill="#231F20"/>
<rect x="65.7" y="439.74" width="3.3" height="3.3" fill="#231F20"/>
<line x1="82.3" y1="409.52" x2="82.3" y2="406.06" stroke="#231F20" stroke-width="0.7"/>
<line x1="79.3" y1="406.06" x2="85.3" y2="406.06" stroke="#231F20" stroke-width="0.7"/>
<path d="M77.9 406.22L79.85 409.92L75.95 409.92Z" fill="#231F20"/>
<path d="M82.3 403.92L84.25 407.62L80.35 407.62Z" fill="#231F20"/>
<path d="M86.7 406.6L88.65 410.31L84.75 410.31Z" fill="#231F20"/>
<line x1="31.2" y1="399.9" x2="31.2" y2="496.7" stroke="#8C8C8C" stroke-width="0.8"/>
<line x1="31.2" y1="496.3" x2="95.3" y2="496.3" stroke="#8C8C8C" stroke-width="0.8"/>
<line x1="26.8" y1="496.3" x2="31.2" y2="496.3" stroke="#8C8C8C" stroke-width="0.8"/>
<text x="23.6" y="499.2" font-size="8.96" text-anchor="end" fill="#444" textLength="4.45" lengthAdjust="spacingAndGlyphs">0</text>
<line x1="26.8" y1="477.1" x2="31.2" y2="477.1" stroke="#8C8C8C" stroke-width="0.8"/>
<text x="23.6" y="480" font-size="8.96" text-anchor="end" fill="#444" textLength="4.45" lengthAdjust="spacingAndGlyphs">5</text>
<line x1="26.8" y1="457.9" x2="31.2" y2="457.9" stroke="#8C8C8C" stroke-width="0.8"/>
<text x="23.6" y="460.8" font-size="8.96" text-anchor="end" fill="#444" textLength="8.9" lengthAdjust="spacingAndGlyphs">10</text>
<line x1="26.8" y1="438.7" x2="31.2" y2="438.7" stroke="#8C8C8C" stroke-width="0.8"/>
<text x="23.6" y="441.6" font-size="8.96" text-anchor="end" fill="#444" textLength="8.9" lengthAdjust="spacingAndGlyphs">15</text>
<line x1="26.8" y1="419.5" x2="31.2" y2="419.5" stroke="#8C8C8C" stroke-width="0.8"/>
<text x="23.6" y="422.4" font-size="8.96" text-anchor="end" fill="#444" textLength="8.9" lengthAdjust="spacingAndGlyphs">20</text>
<line x1="26.8" y1="400.3" x2="31.2" y2="400.3" stroke="#8C8C8C" stroke-width="0.8"/>
<text x="23.6" y="403.2" font-size="8.96" text-anchor="end" fill="#444" textLength="8.9" lengthAdjust="spacingAndGlyphs">25</text>
<line x1="43.5" y1="496.3" x2="43.5" y2="500.7" stroke="#8C8C8C" stroke-width="0.8"/>
<text x="43.5" y="511.8" font-size="8.96" text-anchor="middle" fill="#333" textLength="16.44" lengthAdjust="spacingAndGlyphs">CTR</text>
<line x1="62.95" y1="496.3" x2="62.95" y2="500.7" stroke="#8C8C8C" stroke-width="0.8"/>
<text x="62.95" y="511.8" font-size="8.96" text-anchor="middle" fill="#333" textLength="5.34" lengthAdjust="spacingAndGlyphs">A</text>
<line x1="82.3" y1="496.3" x2="82.3" y2="500.7" stroke="#8C8C8C" stroke-width="0.8"/>
<text x="82.3" y="511.8" font-size="8.96" text-anchor="middle" fill="#333" textLength="20.88" lengthAdjust="spacingAndGlyphs">C-risk</text>
<text x="63.2" y="384.6" font-size="8.96" text-anchor="middle" fill="#3d3d3d" textLength="41.66" lengthAdjust="spacingAndGlyphs">rs11598018</text>
<text transform="translate(6.8 448.5) rotate(-90)" font-size="8.85" text-anchor="middle" fill="#333">Firefly/Renilla luminosity</text>
<line x1="43.6" y1="393.9" x2="82" y2="393.9" stroke="#8a8a8a" stroke-width="0.9"/>
<text x="62.8" y="391.6" font-size="6.72" text-anchor="middle" fill="#444" textLength="27" lengthAdjust="spacingAndGlyphs"><tspan font-style="italic">P</tspan> < 0.0001</text>
<line x1="63.1" y1="405" x2="82" y2="405" stroke="#8a8a8a" stroke-width="0.9"/>
<text x="72.55" y="402.7" font-size="6.72" text-anchor="middle" fill="#444" textLength="27" lengthAdjust="spacingAndGlyphs"><tspan font-style="italic">P</tspan> < 0.0001</text>
<line x1="43.6" y1="434.2" x2="66.5" y2="434.2" stroke="#8a8a8a" stroke-width="0.9"/>
<text x="53.2" y="431.9" font-size="6.72" text-anchor="middle" fill="#444" textLength="27" lengthAdjust="spacingAndGlyphs"><tspan font-style="italic">P</tspan> < 0.0001</text>
<rect x="141.8" y="480" width="11.6" height="16.6" fill="#fff" stroke="#555" stroke-width="0.8"/>
<rect x="161.5" y="429.37" width="12" height="67.23" fill="#6D6E71"/>
<rect x="181.5" y="411.94" width="11.9" height="84.66" fill="#ED1C24"/>
<circle cx="143" cy="480" r="1.75" fill="#231F20"/>
<circle cx="147.6" cy="480" r="1.75" fill="#231F20"/>
<circle cx="152.2" cy="480" r="1.75" fill="#231F20"/>
<line x1="167.5" y1="429.37" x2="167.5" y2="426.88" stroke="#231F20" stroke-width="0.7"/>
<line x1="164.5" y1="426.88" x2="170.5" y2="426.88" stroke="#231F20" stroke-width="0.7"/>
<rect x="165.85" y="425.23" width="3.3" height="3.3" fill="#231F20"/>
<rect x="161.45" y="427.72" width="3.3" height="3.3" fill="#231F20"/>
<rect x="170.25" y="427.72" width="3.3" height="3.3" fill="#231F20"/>
<line x1="187.45" y1="411.94" x2="187.45" y2="407.79" stroke="#231F20" stroke-width="0.7"/>
<line x1="184.45" y1="407.79" x2="190.45" y2="407.79" stroke="#231F20" stroke-width="0.7"/>
<path d="M187.45 406.48L189.4 410.18L185.5 410.18Z" fill="#231F20"/>
<path d="M183.05 410.63L185 414.33L181.1 414.33Z" fill="#231F20"/>
<path d="M191.85 409.8L193.8 413.5L189.9 413.5Z" fill="#231F20"/>
<line x1="134.8" y1="396.6" x2="134.8" y2="497" stroke="#8C8C8C" stroke-width="0.8"/>
<line x1="134.8" y1="496.6" x2="198.5" y2="496.6" stroke="#8C8C8C" stroke-width="0.8"/>
<line x1="130.4" y1="496.6" x2="134.8" y2="496.6" stroke="#8C8C8C" stroke-width="0.8"/>
<text x="127.2" y="499.5" font-size="8.96" text-anchor="end" fill="#444" textLength="4.45" lengthAdjust="spacingAndGlyphs">0</text>
<line x1="130.4" y1="463.4" x2="134.8" y2="463.4" stroke="#8C8C8C" stroke-width="0.8"/>
<text x="127.2" y="466.3" font-size="8.96" text-anchor="end" fill="#444" textLength="4.45" lengthAdjust="spacingAndGlyphs">2</text>
<line x1="130.4" y1="430.2" x2="134.8" y2="430.2" stroke="#8C8C8C" stroke-width="0.8"/>
<text x="127.2" y="433.1" font-size="8.96" text-anchor="end" fill="#444" textLength="4.45" lengthAdjust="spacingAndGlyphs">4</text>
<line x1="130.4" y1="397" x2="134.8" y2="397" stroke="#8C8C8C" stroke-width="0.8"/>
<text x="127.2" y="399.9" font-size="8.96" text-anchor="end" fill="#444" textLength="4.45" lengthAdjust="spacingAndGlyphs">6</text>
<line x1="147.6" y1="496.6" x2="147.6" y2="501" stroke="#8C8C8C" stroke-width="0.8"/>
<text x="147.6" y="511.8" font-size="8.96" text-anchor="middle" fill="#333" textLength="16.44" lengthAdjust="spacingAndGlyphs">CTR</text>
<line x1="167.5" y1="496.6" x2="167.5" y2="501" stroke="#8C8C8C" stroke-width="0.8"/>
<text x="167.5" y="511.8" font-size="8.96" text-anchor="middle" fill="#333" textLength="6.22" lengthAdjust="spacingAndGlyphs">G</text>
<line x1="187.45" y1="496.6" x2="187.45" y2="501" stroke="#8C8C8C" stroke-width="0.8"/>
<text x="187.45" y="511.8" font-size="8.96" text-anchor="middle" fill="#333" textLength="20.44" lengthAdjust="spacingAndGlyphs">A-risk</text>
<text x="167.2" y="384.6" font-size="8.96" text-anchor="middle" fill="#3d3d3d" textLength="33.36" lengthAdjust="spacingAndGlyphs">rs723527</text>
<text transform="translate(114.5 446.4) rotate(-90)" font-size="8.85" text-anchor="middle" fill="#333">Firefly/Renilla luminosity</text>
<line x1="147.6" y1="396.1" x2="187.4" y2="396.1" stroke="#8a8a8a" stroke-width="0.9"/>
<text x="167.5" y="393.8" font-size="6.72" text-anchor="middle" fill="#444" textLength="27" lengthAdjust="spacingAndGlyphs"><tspan font-style="italic">P</tspan> < 0.0001</text>
<line x1="169" y1="405.4" x2="187.4" y2="405.4" stroke="#8a8a8a" stroke-width="0.9"/>
<text x="175" y="403.1" font-size="6.72" text-anchor="middle" fill="#444" textLength="23" lengthAdjust="spacingAndGlyphs"><tspan font-style="italic">P</tspan> < 0.001</text>
<line x1="147.6" y1="422.5" x2="170.8" y2="422.5" stroke="#8a8a8a" stroke-width="0.9"/>
<text x="157.3" y="420.2" font-size="6.72" text-anchor="middle" fill="#444" textLength="27" lengthAdjust="spacingAndGlyphs"><tspan font-style="italic">P</tspan> < 0.0001</text>
<rect x="247.5" y="489.85" width="11.9" height="6.35" fill="#fff" stroke="#555" stroke-width="0.8"/>
<rect x="266.8" y="440.32" width="11.8" height="55.88" fill="#6D6E71"/>
<rect x="285.9" y="432.06" width="11.9" height="64.13" fill="#ED1C24"/>
<circle cx="248.85" cy="489.85" r="1.75" fill="#231F20"/>
<circle cx="253.45" cy="489.85" r="1.75" fill="#231F20"/>
<circle cx="258.05" cy="489.85" r="1.75" fill="#231F20"/>
<line x1="272.7" y1="440.32" x2="272.7" y2="435.88" stroke="#231F20" stroke-width="0.7"/>
<line x1="269.7" y1="435.88" x2="275.7" y2="435.88" stroke="#231F20" stroke-width="0.7"/>
<rect x="266.65" y="434.86" width="3.3" height="3.3" fill="#231F20"/>
<rect x="275.45" y="438.04" width="3.3" height="3.3" fill="#231F20"/>
<rect x="271.05" y="441.21" width="3.3" height="3.3" fill="#231F20"/>
<line x1="291.85" y1="432.06" x2="291.85" y2="430.79" stroke="#231F20" stroke-width="0.7"/>
<line x1="288.85" y1="430.79" x2="294.85" y2="430.79" stroke="#231F20" stroke-width="0.7"/>
<path d="M287.45 429.92L289.4 433.62L285.5 433.62Z" fill="#231F20"/>
<path d="M291.85 428.97L293.8 432.67L289.9 432.67Z" fill="#231F20"/>
<path d="M296.25 429.6L298.2 433.31L294.3 433.31Z" fill="#231F20"/>
<line x1="240.5" y1="400.55" x2="240.5" y2="496.6" stroke="#8C8C8C" stroke-width="0.8"/>
<line x1="240.5" y1="496.2" x2="303" y2="496.2" stroke="#8C8C8C" stroke-width="0.8"/>
<line x1="236.1" y1="496.2" x2="240.5" y2="496.2" stroke="#8C8C8C" stroke-width="0.8"/>
<text x="232.9" y="499.1" font-size="8.96" text-anchor="end" fill="#444" textLength="4.45" lengthAdjust="spacingAndGlyphs">0</text>
<line x1="236.1" y1="464.45" x2="240.5" y2="464.45" stroke="#8C8C8C" stroke-width="0.8"/>
<text x="232.9" y="467.35" font-size="8.96" text-anchor="end" fill="#444" textLength="4.45" lengthAdjust="spacingAndGlyphs">5</text>
<line x1="236.1" y1="432.7" x2="240.5" y2="432.7" stroke="#8C8C8C" stroke-width="0.8"/>
<text x="232.9" y="435.6" font-size="8.96" text-anchor="end" fill="#444" textLength="8.9" lengthAdjust="spacingAndGlyphs">10</text>
<line x1="236.1" y1="400.95" x2="240.5" y2="400.95" stroke="#8C8C8C" stroke-width="0.8"/>
<text x="232.9" y="403.85" font-size="8.96" text-anchor="end" fill="#444" textLength="8.9" lengthAdjust="spacingAndGlyphs">15</text>
<line x1="253.45" y1="496.2" x2="253.45" y2="500.6" stroke="#8C8C8C" stroke-width="0.8"/>
<text x="253.45" y="511.8" font-size="8.96" text-anchor="middle" fill="#333" textLength="16.44" lengthAdjust="spacingAndGlyphs">CTR</text>
<line x1="272.7" y1="496.2" x2="272.7" y2="500.6" stroke="#8C8C8C" stroke-width="0.8"/>
<text x="272.7" y="511.8" font-size="8.96" text-anchor="middle" fill="#333" textLength="5.34" lengthAdjust="spacingAndGlyphs">A</text>
<line x1="291.85" y1="496.2" x2="291.85" y2="500.6" stroke="#8C8C8C" stroke-width="0.8"/>
<text x="291.85" y="511.8" font-size="8.96" text-anchor="middle" fill="#333" textLength="21.33" lengthAdjust="spacingAndGlyphs">G-risk</text>
<text x="272" y="384.6" font-size="8.96" text-anchor="middle" fill="#3d3d3d" textLength="42.26" lengthAdjust="spacingAndGlyphs">rs55705857</text>
<text transform="translate(217.8 448.6) rotate(-90)" font-size="8.85" text-anchor="middle" fill="#333">Firefly/Renilla luminosity</text>
<line x1="253.8" y1="414.9" x2="290.7" y2="414.9" stroke="#8a8a8a" stroke-width="0.9"/>
<text x="272.25" y="412.6" font-size="6.72" text-anchor="middle" fill="#444" textLength="27" lengthAdjust="spacingAndGlyphs"><tspan font-style="italic">P</tspan> < 0.0001</text>
<line x1="273" y1="424.2" x2="290.7" y2="424.2" stroke="#8a8a8a" stroke-width="0.9"/>
<text x="281.85" y="421.9" font-size="6.72" text-anchor="middle" fill="#444" textLength="26.5" lengthAdjust="spacingAndGlyphs"><tspan font-style="italic">P</tspan> = 0.0083</text>
<line x1="253.8" y1="433.5" x2="273" y2="433.5" stroke="#8a8a8a" stroke-width="0.9"/>
<text x="263.4" y="431.2" font-size="6.72" text-anchor="middle" fill="#444" textLength="27" lengthAdjust="spacingAndGlyphs"><tspan font-style="italic">P</tspan> < 0.0001</text>
<rect x="350.9" y="492.41" width="11.3" height="3.79" fill="#fff" stroke="#555" stroke-width="0.8"/>
<rect x="370" y="457.16" width="11.9" height="39.04" fill="#6D6E71"/>
<rect x="389.2" y="427.22" width="12" height="68.98" fill="#ED1C24"/>
<circle cx="351.95" cy="492.41" r="1.75" fill="#231F20"/>
<circle cx="356.55" cy="492.41" r="1.75" fill="#231F20"/>
<circle cx="361.15" cy="492.41" r="1.75" fill="#231F20"/>
<rect x="369.7" y="455.13" width="3.3" height="3.3" fill="#231F20"/>
<rect x="374.3" y="454.38" width="3.3" height="3.3" fill="#231F20"/>
<rect x="378.9" y="455.13" width="3.3" height="3.3" fill="#231F20"/>
<line x1="395.2" y1="427.22" x2="395.2" y2="421.92" stroke="#231F20" stroke-width="0.7"/>
<line x1="392.2" y1="421.92" x2="398.2" y2="421.92" stroke="#231F20" stroke-width="0.7"/>
<path d="M390.8 422.05L392.75 425.75L388.85 425.75Z" fill="#231F20"/>
<path d="M399.6 422.05L401.55 425.75L397.65 425.75Z" fill="#231F20"/>
<path d="M395.2 429.62L397.15 433.33L393.25 433.33Z" fill="#231F20"/>
<line x1="343.8" y1="401.05" x2="343.8" y2="496.6" stroke="#8C8C8C" stroke-width="0.8"/>
<line x1="343.8" y1="496.2" x2="407.5" y2="496.2" stroke="#8C8C8C" stroke-width="0.8"/>
<line x1="339.4" y1="496.2" x2="343.8" y2="496.2" stroke="#8C8C8C" stroke-width="0.8"/>
<text x="336.2" y="499.1" font-size="8.96" text-anchor="end" fill="#444" textLength="4.45" lengthAdjust="spacingAndGlyphs">0</text>
<line x1="339.4" y1="477.25" x2="343.8" y2="477.25" stroke="#8C8C8C" stroke-width="0.8"/>
<text x="336.2" y="480.15" font-size="8.96" text-anchor="end" fill="#444" textLength="4.45" lengthAdjust="spacingAndGlyphs">5</text>
<line x1="339.4" y1="458.3" x2="343.8" y2="458.3" stroke="#8C8C8C" stroke-width="0.8"/>
<text x="336.2" y="461.2" font-size="8.96" text-anchor="end" fill="#444" textLength="8.9" lengthAdjust="spacingAndGlyphs">10</text>
<line x1="339.4" y1="439.35" x2="343.8" y2="439.35" stroke="#8C8C8C" stroke-width="0.8"/>
<text x="336.2" y="442.25" font-size="8.96" text-anchor="end" fill="#444" textLength="8.9" lengthAdjust="spacingAndGlyphs">15</text>
<line x1="339.4" y1="420.4" x2="343.8" y2="420.4" stroke="#8C8C8C" stroke-width="0.8"/>
<text x="336.2" y="423.3" font-size="8.96" text-anchor="end" fill="#444" textLength="8.9" lengthAdjust="spacingAndGlyphs">20</text>
<line x1="339.4" y1="401.45" x2="343.8" y2="401.45" stroke="#8C8C8C" stroke-width="0.8"/>
<text x="336.2" y="404.35" font-size="8.96" text-anchor="end" fill="#444" textLength="8.9" lengthAdjust="spacingAndGlyphs">25</text>
<line x1="356.55" y1="496.2" x2="356.55" y2="500.6" stroke="#8C8C8C" stroke-width="0.8"/>
<text x="356.55" y="511.8" font-size="8.96" text-anchor="middle" fill="#333" textLength="16.44" lengthAdjust="spacingAndGlyphs">CTR</text>
<line x1="375.95" y1="496.2" x2="375.95" y2="500.6" stroke="#8C8C8C" stroke-width="0.8"/>
<text x="375.95" y="511.8" font-size="8.96" text-anchor="middle" fill="#333" textLength="5.78" lengthAdjust="spacingAndGlyphs">C</text>
<line x1="395.2" y1="496.2" x2="395.2" y2="500.6" stroke="#8C8C8C" stroke-width="0.8"/>
<text x="395.2" y="511.8" font-size="8.96" text-anchor="middle" fill="#333" textLength="19.55" lengthAdjust="spacingAndGlyphs">T-risk</text>
<text x="375.8" y="384.6" font-size="8.96" text-anchor="middle" fill="#3d3d3d" textLength="37.81" lengthAdjust="spacingAndGlyphs">rs7107785</text>
<text transform="translate(319.6 448.5) rotate(-90)" font-size="8.85" text-anchor="middle" fill="#333">Firefly/Renilla luminosity</text>
<line x1="354.9" y1="405" x2="395.2" y2="405" stroke="#8a8a8a" stroke-width="0.9"/>
<text x="375.05" y="402.7" font-size="6.72" text-anchor="middle" fill="#444" textLength="27" lengthAdjust="spacingAndGlyphs"><tspan font-style="italic">P</tspan> < 0.0001</text>
<line x1="375.9" y1="419.1" x2="395.2" y2="419.1" stroke="#8a8a8a" stroke-width="0.9"/>
<text x="385.55" y="416.8" font-size="6.72" text-anchor="middle" fill="#444" textLength="23" lengthAdjust="spacingAndGlyphs"><tspan font-style="italic">P</tspan> < 0.001</text>
<line x1="354.9" y1="452.3" x2="378.6" y2="452.3" stroke="#8a8a8a" stroke-width="0.9"/>
<text x="366.75" y="450" font-size="6.72" text-anchor="middle" fill="#444" textLength="27" lengthAdjust="spacingAndGlyphs"><tspan font-style="italic">P</tspan> < 0.0001</text>
<rect x="38.1" y="634.84" width="11.3" height="4.76" fill="#fff" stroke="#555" stroke-width="0.8"/>
<rect x="57.2" y="566.22" width="11.5" height="73.38" fill="#6D6E71"/>
<rect x="76.4" y="610.53" width="11.8" height="29.07" fill="#ED1C24"/>
<circle cx="39.15" cy="634.84" r="1.75" fill="#231F20"/>
<circle cx="43.75" cy="634.84" r="1.75" fill="#231F20"/>
<circle cx="48.35" cy="634.84" r="1.75" fill="#231F20"/>
<line x1="62.95" y1="566.22" x2="62.95" y2="559.07" stroke="#231F20" stroke-width="0.7"/>
<line x1="59.95" y1="559.07" x2="65.95" y2="559.07" stroke="#231F20" stroke-width="0.7"/>
<rect x="56.9" y="559.33" width="3.3" height="3.3" fill="#231F20"/>
<rect x="65.7" y="560.76" width="3.3" height="3.3" fill="#231F20"/>
<rect x="61.3" y="570.29" width="3.3" height="3.3" fill="#231F20"/>
<line x1="82.3" y1="610.53" x2="82.3" y2="608.63" stroke="#231F20" stroke-width="0.7"/>
<line x1="79.3" y1="608.63" x2="85.3" y2="608.63" stroke="#231F20" stroke-width="0.7"/>
<path d="M77.9 607.91L79.85 611.62L75.95 611.62Z" fill="#231F20"/>
<path d="M82.3 606.96L84.25 610.66L80.35 610.66Z" fill="#231F20"/>
<path d="M86.7 608.39L88.65 612.09L84.75 612.09Z" fill="#231F20"/>
<line x1="31.3" y1="543.9" x2="31.3" y2="640" stroke="#8C8C8C" stroke-width="0.8"/>
<line x1="31.3" y1="639.6" x2="95.3" y2="639.6" stroke="#8C8C8C" stroke-width="0.8"/>
<line x1="26.9" y1="639.6" x2="31.3" y2="639.6" stroke="#8C8C8C" stroke-width="0.8"/>
<text x="23.7" y="642.5" font-size="8.96" text-anchor="end" fill="#444" textLength="4.45" lengthAdjust="spacingAndGlyphs">0</text>
<line x1="26.9" y1="615.77" x2="31.3" y2="615.77" stroke="#8C8C8C" stroke-width="0.8"/>
<text x="23.7" y="618.67" font-size="8.96" text-anchor="end" fill="#444" textLength="4.45" lengthAdjust="spacingAndGlyphs">5</text>
<line x1="26.9" y1="591.95" x2="31.3" y2="591.95" stroke="#8C8C8C" stroke-width="0.8"/>
<text x="23.7" y="594.85" font-size="8.96" text-anchor="end" fill="#444" textLength="8.9" lengthAdjust="spacingAndGlyphs">10</text>
<line x1="26.9" y1="568.12" x2="31.3" y2="568.12" stroke="#8C8C8C" stroke-width="0.8"/>
<text x="23.7" y="571.02" font-size="8.96" text-anchor="end" fill="#444" textLength="8.9" lengthAdjust="spacingAndGlyphs">15</text>
<line x1="26.9" y1="544.3" x2="31.3" y2="544.3" stroke="#8C8C8C" stroke-width="0.8"/>
<text x="23.7" y="547.2" font-size="8.96" text-anchor="end" fill="#444" textLength="8.9" lengthAdjust="spacingAndGlyphs">20</text>
<line x1="43.75" y1="639.6" x2="43.75" y2="644" stroke="#8C8C8C" stroke-width="0.8"/>
<text x="43.75" y="654" font-size="8.96" text-anchor="middle" fill="#333" textLength="16.44" lengthAdjust="spacingAndGlyphs">CTR</text>
<line x1="62.95" y1="639.6" x2="62.95" y2="644" stroke="#8C8C8C" stroke-width="0.8"/>
<text x="62.95" y="654" font-size="8.96" text-anchor="middle" fill="#333" textLength="6.22" lengthAdjust="spacingAndGlyphs">G</text>
<line x1="82.3" y1="639.6" x2="82.3" y2="644" stroke="#8C8C8C" stroke-width="0.8"/>
<text x="82.3" y="654" font-size="8.96" text-anchor="middle" fill="#333" textLength="23.55" lengthAdjust="spacingAndGlyphs">A-Risk</text>
<text x="62.9" y="527" font-size="8.96" text-anchor="middle" fill="#3d3d3d" textLength="41.66" lengthAdjust="spacingAndGlyphs">rs11979158</text>
<text transform="translate(6 592.5) rotate(-90)" font-size="8.85" text-anchor="middle" fill="#333">Firefly/Renilla luminosity</text>
<line x1="44.3" y1="539.2" x2="82" y2="539.2" stroke="#8a8a8a" stroke-width="0.9"/>
<text x="63.15" y="536.9" font-size="6.72" text-anchor="middle" fill="#444" textLength="27" lengthAdjust="spacingAndGlyphs"><tspan font-style="italic">P</tspan> < 0.0001</text>
<line x1="63.1" y1="551" x2="82" y2="551" stroke="#8a8a8a" stroke-width="0.9"/>
<text x="72.55" y="548.7" font-size="6.72" text-anchor="middle" fill="#444" textLength="23" lengthAdjust="spacingAndGlyphs"><tspan font-style="italic">P</tspan> < 0.001</text>
<line x1="35.9" y1="557" x2="62.7" y2="557" stroke="#8a8a8a" stroke-width="0.9"/>
<text x="48.5" y="554.7" font-size="6.72" text-anchor="middle" fill="#444" textLength="27" lengthAdjust="spacingAndGlyphs"><tspan font-style="italic">P</tspan> < 0.0001</text>
<rect x="141.4" y="637.18" width="11.3" height="3.82" fill="#fff" stroke="#555" stroke-width="0.8"/>
<rect x="160.2" y="634.88" width="11.7" height="6.12" fill="#6D6E71"/>
<rect x="179.2" y="562.61" width="12" height="78.39" fill="#ED1C24"/>
<circle cx="142.45" cy="637.18" r="1.75" fill="#231F20"/>
<circle cx="147.05" cy="637.18" r="1.75" fill="#231F20"/>
<circle cx="151.65" cy="637.18" r="1.75" fill="#231F20"/>
<line x1="166.05" y1="634.88" x2="166.05" y2="632.2" stroke="#231F20" stroke-width="0.7"/>
<line x1="163.05" y1="632.2" x2="169.05" y2="632.2" stroke="#231F20" stroke-width="0.7"/>
<rect x="160" y="630.94" width="3.3" height="3.3" fill="#231F20"/>
<rect x="168.8" y="634" width="3.3" height="3.3" fill="#231F20"/>
<rect x="164.4" y="635.53" width="3.3" height="3.3" fill="#231F20"/>
<line x1="185.2" y1="562.61" x2="185.2" y2="560.7" stroke="#231F20" stroke-width="0.7"/>
<line x1="182.2" y1="560.7" x2="188.2" y2="560.7" stroke="#231F20" stroke-width="0.7"/>
<path d="M180.8 558.93L182.75 562.64L178.85 562.64Z" fill="#231F20"/>
<path d="M185.2 561.23L187.15 564.93L183.25 564.93Z" fill="#231F20"/>
<path d="M189.6 560.46L191.55 564.17L187.65 564.17Z" fill="#231F20"/>
<line x1="134.3" y1="545" x2="134.3" y2="641.4" stroke="#8C8C8C" stroke-width="0.8"/>
<line x1="134.3" y1="641" x2="197.8" y2="641" stroke="#8C8C8C" stroke-width="0.8"/>
<line x1="129.9" y1="641" x2="134.3" y2="641" stroke="#8C8C8C" stroke-width="0.8"/>
<text x="126.7" y="643.9" font-size="8.96" text-anchor="end" fill="#444" textLength="4.45" lengthAdjust="spacingAndGlyphs">0</text>
<line x1="129.9" y1="621.88" x2="134.3" y2="621.88" stroke="#8C8C8C" stroke-width="0.8"/>
<text x="126.7" y="624.78" font-size="8.96" text-anchor="end" fill="#444" textLength="4.45" lengthAdjust="spacingAndGlyphs">5</text>
<line x1="129.9" y1="602.76" x2="134.3" y2="602.76" stroke="#8C8C8C" stroke-width="0.8"/>
<text x="126.7" y="605.66" font-size="8.96" text-anchor="end" fill="#444" textLength="8.9" lengthAdjust="spacingAndGlyphs">10</text>
<line x1="129.9" y1="583.64" x2="134.3" y2="583.64" stroke="#8C8C8C" stroke-width="0.8"/>
<text x="126.7" y="586.54" font-size="8.96" text-anchor="end" fill="#444" textLength="8.9" lengthAdjust="spacingAndGlyphs">15</text>
<line x1="129.9" y1="564.52" x2="134.3" y2="564.52" stroke="#8C8C8C" stroke-width="0.8"/>
<text x="126.7" y="567.42" font-size="8.96" text-anchor="end" fill="#444" textLength="8.9" lengthAdjust="spacingAndGlyphs">20</text>
<line x1="129.9" y1="545.4" x2="134.3" y2="545.4" stroke="#8C8C8C" stroke-width="0.8"/>
<text x="126.7" y="548.3" font-size="8.96" text-anchor="end" fill="#444" textLength="8.9" lengthAdjust="spacingAndGlyphs">25</text>
<line x1="147.05" y1="641" x2="147.05" y2="645.4" stroke="#8C8C8C" stroke-width="0.8"/>
<text x="147.05" y="654" font-size="8.96" text-anchor="middle" fill="#333" textLength="16.44" lengthAdjust="spacingAndGlyphs">CTR</text>
<line x1="166.05" y1="641" x2="166.05" y2="645.4" stroke="#8C8C8C" stroke-width="0.8"/>
<text x="166.05" y="654" font-size="8.96" text-anchor="middle" fill="#333" textLength="4.89" lengthAdjust="spacingAndGlyphs">T</text>
<line x1="185.2" y1="641" x2="185.2" y2="645.4" stroke="#8C8C8C" stroke-width="0.8"/>
<text x="185.2" y="654" font-size="8.96" text-anchor="middle" fill="#333" textLength="24" lengthAdjust="spacingAndGlyphs">C-Risk</text>
<text x="167" y="527" font-size="8.96" text-anchor="middle" fill="#3d3d3d" textLength="37.81" lengthAdjust="spacingAndGlyphs">rs2297440</text>
<text transform="translate(110.2 593.5) rotate(-90)" font-size="8.85" text-anchor="middle" fill="#333">Firefly/Renilla luminosity</text>
<line x1="146.5" y1="544.3" x2="185.2" y2="544.3" stroke="#8a8a8a" stroke-width="0.9"/>
<text x="165.85" y="542" font-size="6.72" text-anchor="middle" fill="#444" textLength="27" lengthAdjust="spacingAndGlyphs"><tspan font-style="italic">P</tspan> < 0.0001</text>
<line x1="166" y1="556.5" x2="185.2" y2="556.5" stroke="#8a8a8a" stroke-width="0.9"/>
<text x="175.6" y="554.2" font-size="6.72" text-anchor="middle" fill="#444" textLength="27" lengthAdjust="spacingAndGlyphs"><tspan font-style="italic">P</tspan> < 0.0001</text>
<line x1="146.5" y1="629.5" x2="166" y2="629.5" stroke="#8a8a8a" stroke-width="0.9"/>
<text x="156.25" y="627.2" font-size="6.72" text-anchor="middle" fill="#444" textLength="11" lengthAdjust="spacingAndGlyphs">N.S</text>
<rect x="247.5" y="636.54" width="11.9" height="4.76" fill="#fff" stroke="#555" stroke-width="0.8"/>
<rect x="266.8" y="569.42" width="11.8" height="71.88" fill="#6D6E71"/>
<rect x="286.3" y="562.76" width="11.5" height="78.54" fill="#ED1C24"/>
<circle cx="248.85" cy="636.54" r="1.75" fill="#231F20"/>
<circle cx="253.45" cy="636.54" r="1.75" fill="#231F20"/>
<circle cx="258.05" cy="636.54" r="1.75" fill="#231F20"/>
<rect x="266.45" y="567.3" width="3.3" height="3.3" fill="#231F20"/>
<rect x="271.05" y="566.35" width="3.3" height="3.3" fill="#231F20"/>
<rect x="275.65" y="567.3" width="3.3" height="3.3" fill="#231F20"/>
<path d="M287.45 560.14L289.4 563.84L285.5 563.84Z" fill="#231F20"/>
<path d="M292.05 559.66L294 563.37L290.1 563.37Z" fill="#231F20"/>
<path d="M296.65 560.14L298.6 563.84L294.7 563.84Z" fill="#231F20"/>
<line x1="240.9" y1="545.7" x2="240.9" y2="641.7" stroke="#8C8C8C" stroke-width="0.8"/>
<line x1="240.9" y1="641.3" x2="303" y2="641.3" stroke="#8C8C8C" stroke-width="0.8"/>
<line x1="236.5" y1="641.3" x2="240.9" y2="641.3" stroke="#8C8C8C" stroke-width="0.8"/>
<text x="233.3" y="644.2" font-size="8.96" text-anchor="end" fill="#444" textLength="4.45" lengthAdjust="spacingAndGlyphs">0</text>
<line x1="236.5" y1="617.5" x2="240.9" y2="617.5" stroke="#8C8C8C" stroke-width="0.8"/>
<text x="233.3" y="620.4" font-size="8.96" text-anchor="end" fill="#444" textLength="4.45" lengthAdjust="spacingAndGlyphs">5</text>
<line x1="236.5" y1="593.7" x2="240.9" y2="593.7" stroke="#8C8C8C" stroke-width="0.8"/>
<text x="233.3" y="596.6" font-size="8.96" text-anchor="end" fill="#444" textLength="8.9" lengthAdjust="spacingAndGlyphs">10</text>
<line x1="236.5" y1="569.9" x2="240.9" y2="569.9" stroke="#8C8C8C" stroke-width="0.8"/>
<text x="233.3" y="572.8" font-size="8.96" text-anchor="end" fill="#444" textLength="8.9" lengthAdjust="spacingAndGlyphs">15</text>
<line x1="236.5" y1="546.1" x2="240.9" y2="546.1" stroke="#8C8C8C" stroke-width="0.8"/>
<text x="233.3" y="549" font-size="8.96" text-anchor="end" fill="#444" textLength="8.9" lengthAdjust="spacingAndGlyphs">20</text>
<line x1="253.45" y1="641.3" x2="253.45" y2="645.7" stroke="#8C8C8C" stroke-width="0.8"/>
<text x="253.45" y="654" font-size="8.96" text-anchor="middle" fill="#333" textLength="16.44" lengthAdjust="spacingAndGlyphs">CTR</text>
<line x1="272.7" y1="641.3" x2="272.7" y2="645.7" stroke="#8C8C8C" stroke-width="0.8"/>
<text x="272.7" y="654" font-size="8.96" text-anchor="middle" fill="#333" textLength="6.22" lengthAdjust="spacingAndGlyphs">G</text>
<line x1="292.05" y1="641.3" x2="292.05" y2="645.7" stroke="#8C8C8C" stroke-width="0.8"/>
<text x="292.05" y="654" font-size="8.96" text-anchor="middle" fill="#333" textLength="20.44" lengthAdjust="spacingAndGlyphs">A-risk</text>
<text x="271.2" y="527" font-size="8.96" text-anchor="middle" fill="#3d3d3d" textLength="33.36" lengthAdjust="spacingAndGlyphs">rs648044</text>
<text transform="translate(217.8 594) rotate(-90)" font-size="8.85" text-anchor="middle" fill="#333">Firefly/Renilla luminosity</text>
<line x1="253.8" y1="544.7" x2="290.7" y2="544.7" stroke="#8a8a8a" stroke-width="0.9"/>
<text x="272.25" y="542.4" font-size="6.72" text-anchor="middle" fill="#444" textLength="27" lengthAdjust="spacingAndGlyphs"><tspan font-style="italic">P</tspan> < 0.0001</text>
<line x1="274.1" y1="555.4" x2="290.7" y2="555.4" stroke="#8a8a8a" stroke-width="0.9"/>
<text x="282.4" y="553.1" font-size="6.72" text-anchor="middle" fill="#444" textLength="27" lengthAdjust="spacingAndGlyphs"><tspan font-style="italic">P</tspan> < 0.0001</text>
<line x1="253.8" y1="564.2" x2="274.1" y2="564.2" stroke="#8a8a8a" stroke-width="0.9"/>
<text x="263.95" y="561.9" font-size="6.72" text-anchor="middle" fill="#444" textLength="27" lengthAdjust="spacingAndGlyphs"><tspan font-style="italic">P</tspan> < 0.0001</text>
<rect x="350.9" y="634.95" width="11.8" height="6.35" fill="#fff" stroke="#555" stroke-width="0.8"/>
<rect x="370" y="574.02" width="11.9" height="67.28" fill="#6D6E71"/>
<rect x="389.2" y="561.33" width="12" height="79.97" fill="#ED1C24"/>
<circle cx="352.2" cy="634.95" r="1.75" fill="#231F20"/>
<circle cx="356.8" cy="634.95" r="1.75" fill="#231F20"/>
<circle cx="361.4" cy="634.95" r="1.75" fill="#231F20"/>
<rect x="369.7" y="572.37" width="3.3" height="3.3" fill="#231F20"/>
<rect x="374.3" y="572.37" width="3.3" height="3.3" fill="#231F20"/>
<rect x="378.9" y="572.37" width="3.3" height="3.3" fill="#231F20"/>
<line x1="395.2" y1="561.33" x2="395.2" y2="553.71" stroke="#231F20" stroke-width="0.7"/>
<line x1="392.2" y1="553.71" x2="398.2" y2="553.71" stroke="#231F20" stroke-width="0.7"/>
<path d="M395.2 552.84L397.15 556.54L393.25 556.54Z" fill="#231F20"/>
<path d="M390.8 560.45L392.75 564.16L388.85 564.16Z" fill="#231F20"/>
<path d="M399.6 560.45L401.55 564.16L397.65 564.16Z" fill="#231F20"/>
<line x1="343.3" y1="545.69" x2="343.3" y2="641.7" stroke="#8C8C8C" stroke-width="0.8"/>
<line x1="343.3" y1="641.3" x2="407.7" y2="641.3" stroke="#8C8C8C" stroke-width="0.8"/>
<line x1="338.9" y1="641.3" x2="343.3" y2="641.3" stroke="#8C8C8C" stroke-width="0.8"/>
<text x="335.7" y="644.2" font-size="8.96" text-anchor="end" fill="#444" textLength="4.45" lengthAdjust="spacingAndGlyphs">0</text>
<line x1="338.9" y1="609.56" x2="343.3" y2="609.56" stroke="#8C8C8C" stroke-width="0.8"/>
<text x="335.7" y="612.46" font-size="8.96" text-anchor="end" fill="#444" textLength="4.45" lengthAdjust="spacingAndGlyphs">5</text>
<line x1="338.9" y1="577.83" x2="343.3" y2="577.83" stroke="#8C8C8C" stroke-width="0.8"/>
<text x="335.7" y="580.73" font-size="8.96" text-anchor="end" fill="#444" textLength="8.9" lengthAdjust="spacingAndGlyphs">10</text>
<line x1="338.9" y1="546.09" x2="343.3" y2="546.09" stroke="#8C8C8C" stroke-width="0.8"/>
<text x="335.7" y="548.99" font-size="8.96" text-anchor="end" fill="#444" textLength="8.9" lengthAdjust="spacingAndGlyphs">15</text>
<line x1="356.8" y1="641.3" x2="356.8" y2="645.7" stroke="#8C8C8C" stroke-width="0.8"/>
<text x="356.8" y="654" font-size="8.96" text-anchor="middle" fill="#333" textLength="16.44" lengthAdjust="spacingAndGlyphs">CTR</text>
<line x1="375.95" y1="641.3" x2="375.95" y2="645.7" stroke="#8C8C8C" stroke-width="0.8"/>
<text x="375.95" y="654" font-size="8.96" text-anchor="middle" fill="#333" textLength="5.34" lengthAdjust="spacingAndGlyphs">A</text>
<line x1="395.2" y1="641.3" x2="395.2" y2="645.7" stroke="#8C8C8C" stroke-width="0.8"/>
<text x="395.2" y="654" font-size="8.96" text-anchor="middle" fill="#333" textLength="20.88" lengthAdjust="spacingAndGlyphs">C-risk</text>
<text x="375.8" y="527" font-size="8.96" text-anchor="middle" fill="#3d3d3d" textLength="41.66" lengthAdjust="spacingAndGlyphs">rs11706832</text>
<text transform="translate(319.8 594) rotate(-90)" font-size="8.85" text-anchor="middle" fill="#333">Firefly/Renilla luminosity</text>
<line x1="357.1" y1="541.7" x2="395.2" y2="541.7" stroke="#8a8a8a" stroke-width="0.9"/>
<text x="376.15" y="539.4" font-size="6.72" text-anchor="middle" fill="#444" textLength="27" lengthAdjust="spacingAndGlyphs"><tspan font-style="italic">P</tspan> < 0.0001</text>
<line x1="375.9" y1="552" x2="395.2" y2="552" stroke="#8a8a8a" stroke-width="0.9"/>
<text x="385.55" y="549.7" font-size="6.72" text-anchor="middle" fill="#444" textLength="26.5" lengthAdjust="spacingAndGlyphs"><tspan font-style="italic">P</tspan> = 0.0084</text>
<line x1="357.1" y1="568" x2="378.6" y2="568" stroke="#8a8a8a" stroke-width="0.9"/>
<text x="367.85" y="565.7" font-size="6.72" text-anchor="middle" fill="#444" textLength="27" lengthAdjust="spacingAndGlyphs"><tspan font-style="italic">P</tspan> < 0.0001</text>
<text x="462.3" y="268.3" font-size="9.06" font-style="italic" fill="#333" textLength="26.4" lengthAdjust="spacingAndGlyphs">HELZ2</text>
<text x="509.7" y="269.2" font-size="9.06" font-style="italic" fill="#333" textLength="29.2" lengthAdjust="spacingAndGlyphs">STMN3</text>
<text x="435.8" y="278.3" font-size="9.06" font-style="italic" fill="#333" textLength="20.2" lengthAdjust="spacingAndGlyphs">PTK6</text>
<text x="498.5" y="282.4" font-size="9.06" font-style="italic" fill="#333" textLength="29" lengthAdjust="spacingAndGlyphs">GMEB2</text>
<text x="455.6" y="292.7" font-size="9.06" font-style="italic" fill="#333" textLength="30.6" lengthAdjust="spacingAndGlyphs">FNDC11</text>
<text x="612.6" y="252.9" font-size="9.06" font-style="italic" fill="#333" textLength="34.9" lengthAdjust="spacingAndGlyphs">SAMD10</text>
<text x="657.1" y="252.9" font-size="9.06" font-style="italic" fill="#ED1C24" textLength="27" lengthAdjust="spacingAndGlyphs">SOX18</text>
<text x="536.4" y="260.7" font-size="9.06" font-style="italic" fill="#333" textLength="40.8" lengthAdjust="spacingAndGlyphs">C20orf181</text>
<text x="579.4" y="269.4" font-size="9.06" font-style="italic" fill="#333" textLength="35.3" lengthAdjust="spacingAndGlyphs">TPD52L2</text>
<text x="641.2" y="274.3" font-size="9.06" font-style="italic" fill="#333" textLength="44.4" lengthAdjust="spacingAndGlyphs">C20orf204</text>
<text x="550.2" y="288.4" font-size="9.06" font-style="italic" fill="#333" textLength="31.7" lengthAdjust="spacingAndGlyphs">ZBTB46</text>
<text x="612.6" y="292.7" font-size="9.06" font-style="italic" fill="#333" textLength="25.8" lengthAdjust="spacingAndGlyphs">UCKL1</text>
<text x="654.6" y="292" font-size="9.06" font-style="italic" fill="#333" textLength="26.1" lengthAdjust="spacingAndGlyphs">TCEA2</text>
<line x1="469.3" y1="270.3" x2="475.8" y2="270.3" stroke="#5B2A8E" stroke-width="1.9"/>
<line x1="502" y1="266.6" x2="507.7" y2="266.6" stroke="#7B4FB0" stroke-width="0.8"/>
<line x1="502" y1="266.6" x2="504.6" y2="266.6" stroke="#5B2A8E" stroke-width="1.9"/>
<line x1="457" y1="274.8" x2="461.7" y2="274.8" stroke="#5B2A8E" stroke-width="1.5"/>
<line x1="480.5" y1="279" x2="497.9" y2="279" stroke="#7B4FB0" stroke-width="0.8"/>
<line x1="480.5" y1="279" x2="490" y2="279" stroke="#5B2A8E" stroke-width="2" stroke-dasharray="2.2 0.6"/>
<line x1="492" y1="279" x2="497" y2="279" stroke="#7B4FB0" stroke-width="1.4" stroke-dasharray="0.9 1.2"/>
<line x1="464.8" y1="282.9" x2="469.3" y2="282.9" stroke="#7B4FB0" stroke-width="1.2" stroke-dasharray="1 1.3"/>
<ellipse cx="636.9" cy="255.8" rx="2.3" ry="1.5" fill="#5B2A8E"/>
<line x1="670.6" y1="255.8" x2="672" y2="255.8" stroke="#5B2A8E" stroke-width="1.5"/>
<line x1="580" y1="257.4" x2="581.6" y2="257.4" stroke="#7B4FB0" stroke-width="0.8"/>
<line x1="591.9" y1="258" x2="603.1" y2="258" stroke="#7B4FB0" stroke-width="1.6" stroke-dasharray="1.3 0.7"/>
<line x1="660.2" y1="263.4" x2="662.8" y2="263.4" stroke="#5B2A8E" stroke-width="1.3"/>
<line x1="552.7" y1="278.3" x2="580.2" y2="278.3" stroke="#7B4FB0" stroke-width="0.7"/>
<line x1="552.7" y1="278.3" x2="560" y2="278.3" stroke="#5B2A8E" stroke-width="1.6" stroke-dasharray="1.5 0.6"/>
<line x1="561" y1="278.3" x2="580" y2="278.3" stroke="#7B4FB0" stroke-width="1.3" stroke-dasharray="0.9 1.6"/>
<line x1="622.1" y1="281.9" x2="630" y2="281.9" stroke="#5B2A8E" stroke-width="1.6" stroke-dasharray="2 0.6"/>
<line x1="666" y1="281.2" x2="672.3" y2="281.2" stroke="#7B4FB0" stroke-width="1.1" stroke-dasharray="1 0.8"/>
<text x="459.4" y="308.8" font-size="9.27" fill="#3d3d3d" textLength="29.4" lengthAdjust="spacingAndGlyphs">[0, 5.6]</text>
<line x1="458.6" y1="302.8" x2="458.6" y2="323" stroke="#666" stroke-width="0.8"/>
<text x="419.6" y="323.2" font-size="9.27" fill="#3d3d3d" textLength="34.8" lengthAdjust="spacingAndGlyphs">H3K27ac</text>
<text x="419.6" y="342.9" font-size="9.27" fill="#3d3d3d" textLength="51.6" lengthAdjust="spacingAndGlyphs">HiChIP loops</text>
<path d="M458.6 323.3 L459.62 322.8 L460.12 322.39 L460.62 322.8 L460.8 322.8 L461.5 317.5 L462.2 322.8 L463.16 322.8 L463.66 322.33 L464.16 322.8 L466.15 322.8 L466.65 322.14 L467.15 322.8 L468.05 322.8 L468.55 321.64 L469.05 322.8 L474.7 322.8 L475.2 322.37 L475.7 322.8 L474.7 322.8 L475.4 311.3 L476.1 322.8 L475.64 322.8 L476.14 321.97 L476.64 322.8 L478.76 322.8 L479.26 322.27 L479.76 322.8 L479.42 322.8 L479.92 322.02 L480.42 322.8 L479.54 322.8 L480.04 321.79 L480.54 322.8 L480.3 322.8 L480.8 322.3 L481.3 322.8 L481.67 322.8 L482.17 321.61 L482.67 322.8 L481.83 322.8 L482.33 322.54 L482.83 322.8 L485.25 322.8 L485.75 322.18 L486.25 322.8 L485.4 322.8 L486 321 L486.6 322.8 L485.58 322.8 L486.08 322.35 L486.58 322.8 L488.44 322.8 L488.94 321.96 L489.44 322.8 L494.31 322.8 L494.81 322.58 L495.31 322.8 L497.2 322.8 L497.9 308.9 L498.6 322.8 L498.27 322.8 L498.77 321.88 L499.27 322.8 L499.9 322.8 L500.4 322.45 L500.9 322.8 L500.31 322.8 L500.81 322.09 L501.31 322.8 L501.54 322.8 L502.04 322.36 L502.54 322.8 L501.64 322.8 L502.14 321.87 L502.64 322.8 L502.4 322.8 L503 320.5 L503.6 322.8 L502.95 322.8 L503.45 321.65 L503.95 322.8 L506.07 322.8 L506.57 322.21 L507.07 322.8 L506.54 322.8 L507.04 322.33 L507.54 322.8 L506.63 322.8 L507.13 322.34 L507.63 322.8 L508.9 322.8 L509.6 314.4 L510.3 322.8 L512.19 322.8 L512.69 321.9 L513.19 322.8 L513.21 322.8 L513.71 322 L514.21 322.8 L514.4 322.8 L515 321.2 L515.6 322.8 L514.64 322.8 L515.14 322.41 L515.64 322.8 L516.29 322.8 L516.79 321.78 L517.29 322.8 L518.8 322.8 L519.5 304.2 L520.2 322.8 L522.4 322.8 L523 313 L523.6 322.8 L523.38 322.8 L523.88 322.53 L524.38 322.8 L524.99 322.8 L525.49 322.53 L525.99 322.8 L525.7 322.8 L526.3 304.2 L526.9 322.8 L526.72 322.8 L527.22 321.72 L527.72 322.8 L528.6 322.8 L529.2 313 L529.8 322.8 L529.18 322.8 L529.68 322.37 L530.18 322.8 L541.65 322.8 L542.15 322.15 L542.65 322.8 L541.5 322.8 L542.3 314.8 L543.1 322.8 L552.64 322.8 L553.14 322.5 L553.64 322.8 L556.86 322.8 L557.36 321.76 L557.86 322.8 L559.48 322.8 L559.98 322.04 L560.48 322.8 L559.2 322.8 L560 321 L560.8 322.8 L560.57 322.8 L561.07 322.32 L561.57 322.8 L569.95 322.8 L570.45 321.94 L570.95 322.8 L571.73 322.8 L572.23 322.01 L572.73 322.8 L574.23 322.8 L574.73 321.96 L575.23 322.8 L576.27 322.8 L576.77 322.54 L577.27 322.8 L579.6 322.8 L580.2 319.5 L580.8 322.8 L583.1 322.8 L583.6 322.15 L584.1 322.8 L583.12 322.8 L583.62 321.75 L584.12 322.8 L586.48 322.8 L586.98 321.73 L587.48 322.8 L591.32 322.8 L591.82 322.31 L592.32 322.8 L591.6 322.8 L592.3 310 L593 322.8 L594.9 322.8 L595.5 317.5 L596.1 322.8 L595.26 322.8 L595.76 322.32 L596.26 322.8 L598.7 322.8 L599.2 321.81 L599.7 322.8 L603.6 322.8 L604.3 317.2 L605 322.8 L604.02 322.8 L604.52 321.98 L605.02 322.8 L611.2 322.8 L612 321.5 L612.8 322.8 L612.75 322.8 L613.25 322.56 L613.75 322.8 L622.91 322.8 L623.41 321.66 L623.91 322.8 L625.9 322.8 L626.5 316.5 L627.1 322.8 L627.9 322.8 L628.6 313.8 L629.3 322.8 L628.85 322.8 L629.35 322.2 L629.85 322.8 L630.26 322.8 L630.76 322.27 L631.26 322.8 L630.4 322.8 L631 318.5 L631.6 322.8 L631.55 322.8 L632.05 322.33 L632.55 322.8 L635.4 322.8 L636 318 L636.6 322.8 L635.64 322.8 L636.14 322.42 L636.64 322.8 L637.5 322.8 L638.2 316.2 L638.9 322.8 L645.19 322.8 L645.69 321.89 L646.19 322.8 L646.59 322.8 L647.09 322.21 L647.59 322.8 L648.32 322.8 L648.82 321.96 L649.32 322.8 L649 322.8 L650 321.8 L651 322.8 L654.46 322.8 L654.96 322 L655.46 322.8 L660.26 322.8 L660.76 321.78 L661.26 322.8 L660.67 322.8 L661.17 322.13 L661.67 322.8 L662.24 322.8 L662.74 322.4 L663.24 322.8 L662.2 322.8 L663 321.2 L663.8 322.8 L663.75 322.8 L664.25 322.13 L664.75 322.8 L671.23 322.8 L671.73 321.75 L672.23 322.8 L671.1 322.8 L671.8 311.4 L672.5 322.8 L671.47 322.8 L671.97 322.12 L672.47 322.8 L672.56 322.8 L673.06 321.84 L673.56 322.8 L674.08 322.8 L674.58 321.8 L675.08 322.8 L676.16 322.8 L676.66 322.2 L677.16 322.8 L676.56 322.8 L677.06 321.64 L677.56 322.8 L677.4 322.8 L678 319 L678.6 322.8 L679.98 322.8 L680.48 321.6 L680.98 322.8 L682 322.8 L682 323.7 L458.6 323.7Z" fill="#4573C4" stroke="#4573C4" stroke-width="0.3" stroke-linejoin="round"/>
<path d="M524.5 323.3 C524.5 342.37 461.2 342.37 461.2 323.3" fill="none" stroke="#E8202A" stroke-width="0.95"/>
<path d="M524.5 323.3 C524.5 341.83 463 341.83 463 323.3" fill="none" stroke="#E8202A" stroke-width="0.95"/>
<path d="M524.5 323.3 C524.5 341.29 464.8 341.29 464.8 323.3" fill="none" stroke="#EE5A48" stroke-width="0.95"/>
<path d="M524.5 323.3 C524.5 338.15 475.2 338.15 475.2 323.3" fill="none" stroke="#E8202A" stroke-width="0.95"/>
<path d="M524.5 323.3 C524.5 337.73 476.6 337.73 476.6 323.3" fill="none" stroke="#E8202A" stroke-width="0.95"/>
<path d="M524.5 323.3 C524.5 331.31 497.9 331.31 497.9 323.3" fill="none" stroke="#E8202A" stroke-width="0.95"/>
<path d="M524.5 323.3 C524.5 330.98 499 330.98 499 323.3" fill="none" stroke="#EE5A48" stroke-width="0.95"/>
<path d="M524.5 323.3 C524.5 327.64 510.1 327.64 510.1 323.3" fill="none" stroke="#E8202A" stroke-width="0.95"/>
<path d="M524.5 323.3 C524.5 328.51 541.8 328.51 541.8 323.3" fill="none" stroke="#E8202A" stroke-width="0.95"/>
<path d="M524.5 323.3 C524.5 340.08 580.2 340.08 580.2 323.3" fill="none" stroke="#F07055" stroke-width="0.95"/>
<path d="M524.5 323.3 C524.5 345.17 597.1 345.17 597.1 323.3" fill="none" stroke="#E8202A" stroke-width="0.95"/>
<path d="M524.5 323.3 C524.5 345.5 598.2 345.5 598.2 323.3" fill="none" stroke="#E8202A" stroke-width="0.95"/>
<path d="M524.5 323.3 C524.5 345.86 599.4 345.86 599.4 323.3" fill="none" stroke="#EE5A48" stroke-width="0.95"/>
<path d="M524.5 323.3 C524.5 347.4 604.5 347.4 604.5 323.3" fill="none" stroke="#F07055" stroke-width="0.95"/>
<path d="M524.5 323.3 C524.5 347.76 605.7 347.76 605.7 323.3" fill="none" stroke="#F59A80" stroke-width="0.95"/>
<path d="M524.5 323.3 C524.5 348.09 606.8 348.09 606.8 323.3" fill="none" stroke="#F07055" stroke-width="0.95"/>
<path d="M524.5 323.3 C524.5 354.03 626.5 354.03 626.5 323.3" fill="none" stroke="#E8202A" stroke-width="0.95"/>
<path d="M524.5 323.3 C524.5 354.39 627.7 354.39 627.7 323.3" fill="none" stroke="#E8202A" stroke-width="0.95"/>
<path d="M524.5 323.3 C524.5 354.78 629 354.78 629 323.3" fill="none" stroke="#E8202A" stroke-width="0.95"/>
<path d="M524.5 323.3 C524.5 355.84 632.5 355.84 632.5 323.3" fill="none" stroke="#E8202A" stroke-width="0.95"/>
<path d="M524.5 323.3 C524.5 356.23 633.8 356.23 633.8 323.3" fill="none" stroke="#EE5A48" stroke-width="0.95"/>
<path d="M524.5 323.3 C524.5 357.25 637.2 357.25 637.2 323.3" fill="none" stroke="#E8202A" stroke-width="0.95"/>
<path d="M524.5 323.3 C524.5 357.61 638.4 357.61 638.4 323.3" fill="none" stroke="#E8202A" stroke-width="0.95"/>
<path d="M524.5 323.3 C524.5 357.97 639.6 357.97 639.6 323.3" fill="none" stroke="#EE5A48" stroke-width="0.95"/>
<path d="M524.5 323.3 C524.5 365.11 663.3 365.11 663.3 323.3" fill="none" stroke="#F59A80" stroke-width="0.95"/>
<path d="M524.5 323.3 C524.5 367.28 670.5 367.28 670.5 323.3" fill="none" stroke="#EE5A48" stroke-width="0.95"/>
<path d="M524.5 323.3 C524.5 367.68 671.8 367.68 671.8 323.3" fill="none" stroke="#E8202A" stroke-width="0.95"/>
<path d="M524.5 323.3 C524.5 368.04 673 368.04 673 323.3" fill="none" stroke="#E8202A" stroke-width="0.95"/>
<path d="M524.5 323.3 C524.5 368.43 674.3 368.43 674.3 323.3" fill="none" stroke="#F07055" stroke-width="0.95"/>
<line x1="524.5" y1="313.8" x2="524.5" y2="344.7" stroke="#222" stroke-width="0.9"/>
<text x="490.7" y="356" font-size="9.27" fill="#3d3d3d" textLength="58.54" lengthAdjust="spacingAndGlyphs">rs2297440 loci</text>
<line x1="492.5" y1="387.3" x2="492.5" y2="607.4" stroke="#7a7a7a" stroke-width="0.8"/>
<line x1="492.5" y1="607" x2="661.5" y2="607" stroke="#7a7a7a" stroke-width="0.8"/>
<line x1="488" y1="597.2" x2="492.5" y2="597.2" stroke="#7a7a7a" stroke-width="0.8"/>
<text x="486.5" y="600.2" font-size="8.96" text-anchor="end" fill="#3d3d3d" textLength="4.45" lengthAdjust="spacingAndGlyphs">0</text>
<line x1="488" y1="557.2" x2="492.5" y2="557.2" stroke="#7a7a7a" stroke-width="0.8"/>
<text x="486.5" y="560.2" font-size="8.96" text-anchor="end" fill="#3d3d3d" textLength="4.45" lengthAdjust="spacingAndGlyphs">1</text>
<line x1="488" y1="517.2" x2="492.5" y2="517.2" stroke="#7a7a7a" stroke-width="0.8"/>
<text x="486.5" y="520.2" font-size="8.96" text-anchor="end" fill="#3d3d3d" textLength="4.45" lengthAdjust="spacingAndGlyphs">2</text>
<line x1="488" y1="477.2" x2="492.5" y2="477.2" stroke="#7a7a7a" stroke-width="0.8"/>
<text x="486.5" y="480.2" font-size="8.96" text-anchor="end" fill="#3d3d3d" textLength="4.45" lengthAdjust="spacingAndGlyphs">3</text>
<line x1="488" y1="437.2" x2="492.5" y2="437.2" stroke="#7a7a7a" stroke-width="0.8"/>
<text x="486.5" y="440.2" font-size="8.96" text-anchor="end" fill="#3d3d3d" textLength="4.45" lengthAdjust="spacingAndGlyphs">4</text>
<line x1="488" y1="397.2" x2="492.5" y2="397.2" stroke="#7a7a7a" stroke-width="0.8"/>
<text x="486.5" y="400.2" font-size="8.96" text-anchor="end" fill="#3d3d3d" textLength="4.45" lengthAdjust="spacingAndGlyphs">5</text>
<line x1="534.75" y1="607" x2="534.75" y2="610.5" stroke="#7a7a7a" stroke-width="0.8"/>
<text x="534.75" y="619.6" font-size="8.4" text-anchor="middle" fill="#3d3d3d" textLength="9.12" lengthAdjust="spacingAndGlyphs">−5</text>
<line x1="568.87" y1="607" x2="568.87" y2="610.5" stroke="#7a7a7a" stroke-width="0.8"/>
<text x="567.37" y="619.6" font-size="8.4" text-anchor="middle" fill="#3d3d3d" textLength="9.12" lengthAdjust="spacingAndGlyphs">−1</text>
<line x1="577.4" y1="607" x2="577.4" y2="610.5" stroke="#7a7a7a" stroke-width="0.8"/>
<text x="577.4" y="619.6" font-size="8.4" text-anchor="middle" fill="#3d3d3d" textLength="4.45" lengthAdjust="spacingAndGlyphs">0</text>
<line x1="585.93" y1="607" x2="585.93" y2="610.5" stroke="#7a7a7a" stroke-width="0.8"/>
<text x="585.93" y="619.6" font-size="8.4" text-anchor="middle" fill="#3d3d3d" textLength="4.45" lengthAdjust="spacingAndGlyphs">1</text>
<line x1="620.05" y1="607" x2="620.05" y2="610.5" stroke="#7a7a7a" stroke-width="0.8"/>
<text x="620.05" y="619.6" font-size="8.4" text-anchor="middle" fill="#3d3d3d" textLength="4.45" lengthAdjust="spacingAndGlyphs">5</text>
<text x="576" y="633.6" font-size="9" text-anchor="middle" fill="#3d3d3d">log<tspan font-size="6" dy="1.5">2</tspan><tspan dy="-1.5"> (fold change of sgRNA</tspan></text>
<text x="577.2" y="642.4" font-size="9.27" text-anchor="middle" fill="#3d3d3d" textLength="47.54" lengthAdjust="spacingAndGlyphs">abundance)</text>
<text transform="translate(473.6 497) rotate(-90)" font-size="9.2" text-anchor="middle" fill="#333" textLength="62" lengthAdjust="spacingAndGlyphs">−log<tspan font-size="6" dy="1.5">10</tspan><tspan dy="-1.5"> (</tspan><tspan font-style="italic">P</tspan> value)</text>
<circle cx="572.91" cy="577.04" r="1.8" fill="#C9C9CB"/>
<circle cx="573.72" cy="587.18" r="1.8" fill="#C9C9CB"/>
<circle cx="574.88" cy="583.61" r="1.8" fill="#C9C9CB"/>
<circle cx="575.1" cy="568.8" r="1.8" fill="#C9C9CB"/>
<circle cx="574.41" cy="568.16" r="1.8" fill="#C9C9CB"/>
<circle cx="571.47" cy="569.17" r="1.8" fill="#C9C9CB"/>
<circle cx="577.55" cy="580.16" r="1.8" fill="#C9C9CB"/>
<circle cx="572.8" cy="570.84" r="1.8" fill="#C9C9CB"/>
<circle cx="577.95" cy="586.45" r="1.8" fill="#C9C9CB"/>
<circle cx="575.13" cy="584.89" r="1.8" fill="#C9C9CB"/>
<circle cx="575.01" cy="597.26" r="1.8" fill="#C9C9CB"/>
<circle cx="575.32" cy="593.61" r="1.8" fill="#C9C9CB"/>
<circle cx="571.99" cy="571.47" r="1.8" fill="#C9C9CB"/>
<circle cx="577.59" cy="576.56" r="1.8" fill="#C9C9CB"/>
<circle cx="575.84" cy="572.6" r="1.8" fill="#C9C9CB"/>
<circle cx="575.13" cy="586.81" r="1.8" fill="#C9C9CB"/>
<circle cx="573.24" cy="583.98" r="1.8" fill="#C9C9CB"/>
<circle cx="572.44" cy="568.85" r="1.8" fill="#C9C9CB"/>
<circle cx="575.47" cy="588.09" r="1.8" fill="#C9C9CB"/>
<circle cx="575.96" cy="576.74" r="1.8" fill="#C9C9CB"/>
<circle cx="574.29" cy="581.05" r="1.8" fill="#C9C9CB"/>
<circle cx="576.7" cy="591.63" r="1.8" fill="#C9C9CB"/>
<circle cx="575.82" cy="574.57" r="1.8" fill="#C9C9CB"/>
<circle cx="577.73" cy="583.28" r="1.8" fill="#C9C9CB"/>
<circle cx="574.96" cy="589.61" r="1.8" fill="#C9C9CB"/>
<circle cx="575.21" cy="597.39" r="1.8" fill="#C9C9CB"/>
<circle cx="577.12" cy="579.96" r="1.8" fill="#C9C9CB"/>
<circle cx="575.06" cy="571.71" r="1.8" fill="#C9C9CB"/>
<circle cx="576.51" cy="568.22" r="1.8" fill="#C9C9CB"/>
<circle cx="576.2" cy="590.7" r="1.8" fill="#C9C9CB"/>
<circle cx="575.44" cy="594.14" r="1.8" fill="#C9C9CB"/>
<circle cx="576.24" cy="588.55" r="1.8" fill="#C9C9CB"/>
<circle cx="575.45" cy="584.98" r="1.8" fill="#C9C9CB"/>
<circle cx="577.55" cy="593.04" r="1.8" fill="#C9C9CB"/>
<circle cx="576.53" cy="581.7" r="1.8" fill="#C9C9CB"/>
<circle cx="576.81" cy="568.88" r="1.8" fill="#C9C9CB"/>
<circle cx="578.13" cy="587.06" r="1.8" fill="#C9C9CB"/>
<circle cx="575.2" cy="592.48" r="1.8" fill="#C9C9CB"/>
<circle cx="576.55" cy="578.96" r="1.8" fill="#C9C9CB"/>
<circle cx="574.64" cy="567.7" r="1.8" fill="#C9C9CB"/>
<circle cx="572.08" cy="572.21" r="1.8" fill="#C9C9CB"/>
<circle cx="577.4" cy="568.83" r="1.8" fill="#C9C9CB"/>
<circle cx="573.02" cy="571.01" r="1.8" fill="#C9C9CB"/>
<circle cx="577.88" cy="579.12" r="1.8" fill="#C9C9CB"/>
<circle cx="574.62" cy="569.5" r="1.8" fill="#C9C9CB"/>
<circle cx="577.74" cy="584.03" r="1.8" fill="#C9C9CB"/>
<circle cx="577.3" cy="592.4" r="1.8" fill="#C9C9CB"/>
<circle cx="574.69" cy="575.63" r="1.8" fill="#C9C9CB"/>
<circle cx="578.01" cy="578.12" r="1.8" fill="#C9C9CB"/>
<circle cx="575.21" cy="596.69" r="1.8" fill="#C9C9CB"/>
<circle cx="573.03" cy="572.46" r="1.8" fill="#C9C9CB"/>
<circle cx="575.13" cy="574.23" r="1.8" fill="#C9C9CB"/>
<circle cx="574.46" cy="585.26" r="1.8" fill="#C9C9CB"/>
<circle cx="574.22" cy="567.13" r="1.8" fill="#C9C9CB"/>
<circle cx="575.86" cy="578.45" r="1.8" fill="#C9C9CB"/>
<circle cx="571.78" cy="565.94" r="1.8" fill="#C9C9CB"/>
<circle cx="570.58" cy="556.1" r="1.8" fill="#C9C9CB"/>
<circle cx="565.31" cy="559.71" r="1.8" fill="#C9C9CB"/>
<circle cx="572.53" cy="564.74" r="1.8" fill="#C9C9CB"/>
<circle cx="572.67" cy="564.18" r="1.8" fill="#C9C9CB"/>
<circle cx="568.08" cy="553.33" r="1.8" fill="#C9C9CB"/>
<circle cx="570.24" cy="546.83" r="1.8" fill="#C9C9CB"/>
<circle cx="563.5" cy="545.9" r="1.8" fill="#C9C9CB"/>
<circle cx="565.04" cy="549.2" r="1.8" fill="#C9C9CB"/>
<circle cx="564.22" cy="552.15" r="1.8" fill="#C9C9CB"/>
<circle cx="564.32" cy="544.51" r="1.8" fill="#C9C9CB"/>
<circle cx="567.08" cy="546.78" r="1.8" fill="#C9C9CB"/>
<circle cx="573" cy="545.07" r="1.8" fill="#C9C9CB"/>
<circle cx="566.05" cy="558.32" r="1.8" fill="#C9C9CB"/>
<circle cx="567.22" cy="550.18" r="1.8" fill="#C9C9CB"/>
<circle cx="565.05" cy="552.69" r="1.8" fill="#C9C9CB"/>
<circle cx="574.44" cy="563.6" r="1.8" fill="#C9C9CB"/>
<circle cx="569.12" cy="554.98" r="1.8" fill="#C9C9CB"/>
<circle cx="563.99" cy="546.43" r="1.8" fill="#C9C9CB"/>
<circle cx="566.53" cy="552.21" r="1.8" fill="#C9C9CB"/>
<circle cx="566.78" cy="563.15" r="1.8" fill="#C9C9CB"/>
<circle cx="573.92" cy="545.02" r="1.8" fill="#C9C9CB"/>
<circle cx="565.78" cy="556.39" r="1.8" fill="#C9C9CB"/>
<circle cx="564.61" cy="556.72" r="1.8" fill="#C9C9CB"/>
<circle cx="574.28" cy="556.38" r="1.8" fill="#C9C9CB"/>
<circle cx="571.74" cy="563.92" r="1.8" fill="#C9C9CB"/>
<circle cx="567.46" cy="550.38" r="1.8" fill="#C9C9CB"/>
<circle cx="571.89" cy="548.26" r="1.8" fill="#C9C9CB"/>
<circle cx="572.25" cy="556.48" r="1.8" fill="#C9C9CB"/>
<circle cx="566.04" cy="551.92" r="1.8" fill="#C9C9CB"/>
<circle cx="574.36" cy="562.76" r="1.8" fill="#C9C9CB"/>
<circle cx="572.73" cy="563.68" r="1.8" fill="#C9C9CB"/>
<circle cx="572.1" cy="562.91" r="1.8" fill="#C9C9CB"/>
<circle cx="569.08" cy="549.6" r="1.8" fill="#C9C9CB"/>
<circle cx="564.01" cy="552.5" r="1.8" fill="#C9C9CB"/>
<circle cx="565.92" cy="545.13" r="1.8" fill="#C9C9CB"/>
<circle cx="571.08" cy="550.33" r="1.8" fill="#C9C9CB"/>
<circle cx="569.65" cy="566.02" r="1.8" fill="#C9C9CB"/>
<circle cx="574.39" cy="565.58" r="1.8" fill="#C9C9CB"/>
<circle cx="568.92" cy="565.99" r="1.8" fill="#C9C9CB"/>
<circle cx="580.56" cy="549.24" r="1.8" fill="#C9C9CB"/>
<circle cx="580.43" cy="548.73" r="1.8" fill="#C9C9CB"/>
<circle cx="584.6" cy="557.92" r="1.8" fill="#C9C9CB"/>
<circle cx="582.08" cy="562.57" r="1.8" fill="#C9C9CB"/>
<circle cx="584" cy="558.54" r="1.8" fill="#C9C9CB"/>
<circle cx="583.16" cy="546.32" r="1.8" fill="#C9C9CB"/>
<circle cx="583.89" cy="564.06" r="1.8" fill="#C9C9CB"/>
<circle cx="582.07" cy="560.63" r="1.8" fill="#C9C9CB"/>
<circle cx="583.93" cy="548.34" r="1.8" fill="#C9C9CB"/>
<circle cx="584" cy="551.65" r="1.8" fill="#C9C9CB"/>
<circle cx="581.58" cy="565.39" r="1.8" fill="#C9C9CB"/>
<circle cx="584.88" cy="553.13" r="1.8" fill="#C9C9CB"/>
<circle cx="580.22" cy="560.08" r="1.8" fill="#C9C9CB"/>
<circle cx="580.11" cy="547.23" r="1.8" fill="#C9C9CB"/>
<circle cx="584.04" cy="563.95" r="1.8" fill="#C9C9CB"/>
<circle cx="584.16" cy="547.64" r="1.8" fill="#C9C9CB"/>
<circle cx="583.14" cy="565.58" r="1.8" fill="#C9C9CB"/>
<circle cx="582.49" cy="552.03" r="1.8" fill="#C9C9CB"/>
<circle cx="568.86" cy="486.51" r="1.8" fill="#C9C9CB"/>
<circle cx="572.72" cy="512.23" r="1.8" fill="#C9C9CB"/>
<circle cx="583.26" cy="531.7" r="1.8" fill="#C9C9CB"/>
<circle cx="583.63" cy="510.58" r="1.8" fill="#C9C9CB"/>
<circle cx="585.7" cy="532.22" r="1.8" fill="#C9C9CB"/>
<circle cx="572.22" cy="521.06" r="1.8" fill="#C9C9CB"/>
<circle cx="582.09" cy="512.57" r="1.8" fill="#C9C9CB"/>
<circle cx="571.36" cy="528.47" r="1.8" fill="#C9C9CB"/>
<circle cx="570.79" cy="489.2" r="1.8" fill="#C9C9CB"/>
<circle cx="570.98" cy="499.19" r="1.8" fill="#C9C9CB"/>
<circle cx="569.04" cy="535.41" r="1.8" fill="#C9C9CB"/>
<circle cx="570.93" cy="528.2" r="1.8" fill="#C9C9CB"/>
<circle cx="571.37" cy="506.81" r="1.8" fill="#C9C9CB"/>
<circle cx="584.67" cy="523.03" r="1.8" fill="#C9C9CB"/>
<circle cx="584.62" cy="511" r="1.8" fill="#C9C9CB"/>
<circle cx="583.01" cy="537.98" r="1.8" fill="#C9C9CB"/>
<circle cx="569.31" cy="486.91" r="1.8" fill="#C9C9CB"/>
<circle cx="583.06" cy="521.63" r="1.8" fill="#C9C9CB"/>
<circle cx="582.77" cy="528.96" r="1.8" fill="#C9C9CB"/>
<circle cx="572.51" cy="487.29" r="1.8" fill="#C9C9CB"/>
<circle cx="569.2" cy="526.53" r="1.8" fill="#C9C9CB"/>
<circle cx="582.81" cy="542.34" r="1.8" fill="#C9C9CB"/>
<circle cx="584.11" cy="542.61" r="1.8" fill="#C9C9CB"/>
<circle cx="582.1" cy="498.7" r="1.8" fill="#C9C9CB"/>
<circle cx="583.66" cy="506.63" r="1.8" fill="#C9C9CB"/>
<circle cx="569.07" cy="511.3" r="1.8" fill="#C9C9CB"/>
<circle cx="569.24" cy="541.16" r="1.8" fill="#C9C9CB"/>
<circle cx="585.78" cy="536.88" r="1.8" fill="#C9C9CB"/>
<circle cx="586.73" cy="533.22" r="1.8" fill="#C9C9CB"/>
<circle cx="584.85" cy="487.71" r="1.8" fill="#C9C9CB"/>
<circle cx="584.2" cy="433.2" r="1.8" fill="#C9C9CB"/>
<circle cx="588.7" cy="454.7" r="1.8" fill="#A0A0A2"/>
<circle cx="588.1" cy="455.5" r="1.8" fill="#A0A0A2"/>
<circle cx="584.9" cy="469.7" r="1.8" fill="#C9C9CB"/>
<circle cx="587.6" cy="470.6" r="1.8" fill="#A0A0A2"/>
<circle cx="584" cy="488.4" r="1.8" fill="#C9C9CB"/>
<circle cx="591.3" cy="492.6" r="1.8" fill="#A0A0A2"/>
<circle cx="593" cy="492.6" r="1.8" fill="#A0A0A2"/>
<circle cx="582.6" cy="495.3" r="1.8" fill="#C9C9CB"/>
<circle cx="584" cy="498" r="1.8" fill="#C9C9CB"/>
<circle cx="584.4" cy="501.7" r="1.8" fill="#C9C9CB"/>
<circle cx="588.5" cy="508.6" r="1.8" fill="#A0A0A2"/>
<circle cx="583.5" cy="510.9" r="1.8" fill="#C9C9CB"/>
<circle cx="586.7" cy="513.6" r="1.8" fill="#A0A0A2"/>
<circle cx="586" cy="520" r="1.8" fill="#A0A0A2"/>
<circle cx="588" cy="523" r="1.8" fill="#C9C9CB"/>
<circle cx="585.5" cy="527" r="1.8" fill="#A0A0A2"/>
<circle cx="587" cy="531" r="1.8" fill="#A0A0A2"/>
<circle cx="584" cy="535" r="1.8" fill="#C9C9CB"/>
<circle cx="586" cy="539" r="1.8" fill="#C9C9CB"/>
<circle cx="569.8" cy="482.9" r="1.8" fill="#C9C9CB"/>
<circle cx="568.9" cy="489.4" r="1.8" fill="#A0A0A2"/>
<circle cx="571.6" cy="490.3" r="1.8" fill="#C9C9CB"/>
<circle cx="571.1" cy="502.6" r="1.8" fill="#C9C9CB"/>
<circle cx="572" cy="506.3" r="1.8" fill="#C9C9CB"/>
<circle cx="556.5" cy="544.8" r="1.8" fill="#8A8A8C"/>
<circle cx="562" cy="543.5" r="1.8" fill="#8A8A8C"/>
<circle cx="530.1" cy="546.3" r="1.8" fill="#C9C9CB"/>
<circle cx="594.1" cy="555.4" r="1.8" fill="#C9C9CB"/>
<circle cx="553.6" cy="551.4" r="1.8" fill="#C9C9CB"/>
<circle cx="561.4" cy="566" r="1.8" fill="#C9C9CB"/>
<circle cx="581.7" cy="570.8" r="1.8" fill="#C9C9CB"/>
<circle cx="580.3" cy="577.2" r="1.8" fill="#C9C9CB"/>
<circle cx="586.2" cy="554.9" r="1.8" fill="#C9C9CB"/>
<circle cx="554" cy="397.5" r="1.95" fill="#F7941D"/>
<circle cx="566.9" cy="416.9" r="1.95" fill="#F7941D"/>
<circle cx="549.5" cy="420" r="1.95" fill="#F7941D"/>
<circle cx="563.2" cy="424" r="1.95" fill="#F7941D"/>
<circle cx="551.9" cy="443.1" r="1.95" fill="#F7941D"/>
<circle cx="562.2" cy="448" r="1.95" fill="#F7941D"/>
<circle cx="555.1" cy="463.1" r="1.95" fill="#F7941D"/>
<circle cx="562.2" cy="463.9" r="1.95" fill="#F7941D"/>
<circle cx="565.2" cy="473.6" r="1.95" fill="#F7941D"/>
<circle cx="553.6" cy="475.6" r="1.95" fill="#F7941D"/>
<circle cx="560.2" cy="475" r="1.95" fill="#F7941D"/>
<circle cx="566.6" cy="477" r="1.95" fill="#F7941D"/>
<circle cx="559.1" cy="479" r="1.95" fill="#F7941D"/>
<circle cx="554.8" cy="480.6" r="1.95" fill="#F7941D"/>
<circle cx="565.2" cy="479.7" r="1.95" fill="#F7941D"/>
<circle cx="566.6" cy="481.6" r="1.95" fill="#F7941D"/>
<circle cx="561.1" cy="486" r="1.95" fill="#F7941D"/>
<circle cx="564.3" cy="485.2" r="1.95" fill="#F7941D"/>
<circle cx="566.6" cy="484.3" r="1.95" fill="#F7941D"/>
<circle cx="567" cy="488" r="1.95" fill="#F7941D"/>
<circle cx="554.2" cy="489.6" r="1.95" fill="#F7941D"/>
<circle cx="559.1" cy="491.6" r="1.95" fill="#F7941D"/>
<circle cx="560.3" cy="493.5" r="1.95" fill="#F7941D"/>
<circle cx="564" cy="494.2" r="1.95" fill="#F7941D"/>
<circle cx="550.8" cy="497.8" r="1.95" fill="#F7941D"/>
<circle cx="561.5" cy="499.4" r="1.95" fill="#F7941D"/>
<circle cx="566.1" cy="498.5" r="1.95" fill="#F7941D"/>
<circle cx="562" cy="503.1" r="1.95" fill="#F7941D"/>
<circle cx="564.3" cy="504.5" r="1.95" fill="#F7941D"/>
<circle cx="566.6" cy="501.3" r="1.95" fill="#F7941D"/>
<circle cx="562.4" cy="509" r="1.95" fill="#F7941D"/>
<circle cx="565.6" cy="510" r="1.95" fill="#F7941D"/>
<circle cx="567" cy="513.6" r="1.95" fill="#F7941D"/>
<circle cx="504.1" cy="492.6" r="1.95" fill="#F7941D"/>
<circle cx="522.9" cy="540.2" r="1.95" fill="#F7941D"/>
<circle cx="554.2" cy="522.9" r="1.95" fill="#F7941D"/>
<circle cx="557.4" cy="540.9" r="1.95" fill="#F7941D"/>
<circle cx="564.5" cy="466.5" r="1.95" fill="#F7941D"/>
<circle cx="560.5" cy="470.5" r="1.95" fill="#F7941D"/>
<circle cx="565.32" cy="519.9" r="1.95" fill="#F7941D"/>
<circle cx="565.02" cy="523.73" r="1.95" fill="#F7941D"/>
<circle cx="562.37" cy="531.15" r="1.95" fill="#F7941D"/>
<circle cx="568.05" cy="513.38" r="1.95" fill="#F7941D"/>
<circle cx="562.84" cy="520.52" r="1.95" fill="#F7941D"/>
<circle cx="566.88" cy="541.87" r="1.95" fill="#F7941D"/>
<circle cx="565.94" cy="537.26" r="1.95" fill="#F7941D"/>
<circle cx="563.03" cy="531.53" r="1.95" fill="#F7941D"/>
<circle cx="567.65" cy="531.41" r="1.95" fill="#F7941D"/>
<circle cx="566.57" cy="528.17" r="1.95" fill="#F7941D"/>
<circle cx="562.12" cy="532.47" r="1.95" fill="#F7941D"/>
<circle cx="566.13" cy="534.99" r="1.95" fill="#F7941D"/>
<circle cx="560.57" cy="521.74" r="1.95" fill="#F7941D"/>
<circle cx="566.1" cy="538.1" r="1.95" fill="#F7941D"/>
<circle cx="567.74" cy="533.85" r="1.95" fill="#F7941D"/>
<circle cx="568" cy="533.71" r="1.95" fill="#F7941D"/>
<circle cx="566.8" cy="524.45" r="1.95" fill="#F7941D"/>
<circle cx="567.98" cy="525.89" r="1.95" fill="#F7941D"/>
<circle cx="564.52" cy="538.49" r="1.95" fill="#F7941D"/>
<circle cx="564.54" cy="516.94" r="1.95" fill="#F7941D"/>
<circle cx="566.58" cy="541" r="1.95" fill="#F7941D"/>
<circle cx="563.92" cy="531.17" r="1.95" fill="#F7941D"/>
<circle cx="563.84" cy="527.71" r="1.95" fill="#F7941D"/>
<circle cx="564.79" cy="523.18" r="1.95" fill="#F7941D"/>
<circle cx="567.84" cy="529.94" r="1.95" fill="#F7941D"/>
<circle cx="568.02" cy="532.78" r="1.95" fill="#F7941D"/>
<circle cx="568.46" cy="537.84" r="1.95" fill="#F7941D"/>
<circle cx="562.8" cy="532.47" r="1.95" fill="#F7941D"/>
<circle cx="568.34" cy="537.96" r="1.95" fill="#F7941D"/>
<circle cx="566.73" cy="539.24" r="1.95" fill="#F7941D"/>
<circle cx="563.51" cy="533.7" r="1.95" fill="#F7941D"/>
<circle cx="566.39" cy="537.12" r="1.95" fill="#F7941D"/>
<circle cx="561.13" cy="521.26" r="1.95" fill="#F7941D"/>
<circle cx="568.45" cy="537.76" r="1.95" fill="#F7941D"/>
<circle cx="567.67" cy="515.57" r="1.95" fill="#F7941D"/>
<circle cx="561.34" cy="524.9" r="1.95" fill="#F7941D"/>
<circle cx="566.64" cy="521.52" r="1.95" fill="#F7941D"/>
<circle cx="564.22" cy="538.31" r="1.95" fill="#F7941D"/>
<circle cx="562.15" cy="530.82" r="1.95" fill="#F7941D"/>
<circle cx="564.31" cy="533.83" r="1.95" fill="#F7941D"/>
<circle cx="568.42" cy="538.55" r="1.95" fill="#F7941D"/>
<circle cx="568.49" cy="527.66" r="1.95" fill="#F7941D"/>
<circle cx="560.8" cy="521.98" r="1.95" fill="#F7941D"/>
<circle cx="561.93" cy="530.39" r="1.95" fill="#F7941D"/>
<circle cx="564.82" cy="518.72" r="1.95" fill="#F7941D"/>
<circle cx="562.86" cy="530.7" r="1.95" fill="#F7941D"/>
<circle cx="568.06" cy="514.23" r="1.95" fill="#F7941D"/>
<circle cx="568.15" cy="522.1" r="1.95" fill="#F7941D"/>
<circle cx="565.89" cy="539" r="1.95" fill="#F7941D"/>
<circle cx="564.66" cy="526.35" r="1.95" fill="#F7941D"/>
<circle cx="565.91" cy="531.67" r="1.95" fill="#F7941D"/>
<circle cx="565.79" cy="529.22" r="1.95" fill="#F7941D"/>
<circle cx="566.68" cy="540.28" r="1.95" fill="#F7941D"/>
<circle cx="566.19" cy="525.5" r="1.95" fill="#F7941D"/>
<circle cx="563.62" cy="519.89" r="1.95" fill="#F7941D"/>
<circle cx="566.94" cy="541.36" r="1.95" fill="#F7941D"/>
<circle cx="561.35" cy="528.9" r="1.95" fill="#F7941D"/>
<circle cx="564.98" cy="525.04" r="1.95" fill="#F7941D"/>
<circle cx="567.39" cy="513.58" r="1.95" fill="#F7941D"/>
<circle cx="562.39" cy="531.33" r="1.95" fill="#F7941D"/>
<circle cx="565.01" cy="531.19" r="1.95" fill="#F7941D"/>
<circle cx="564.15" cy="532.7" r="1.95" fill="#F7941D"/>
<circle cx="566.82" cy="533.5" r="1.95" fill="#F7941D"/>
<circle cx="565.76" cy="513.64" r="1.95" fill="#F7941D"/>
<circle cx="568.25" cy="532.6" r="1.95" fill="#F7941D"/>
<circle cx="564.57" cy="520.28" r="1.95" fill="#F7941D"/>
<circle cx="563.85" cy="530.19" r="1.95" fill="#F7941D"/>
<circle cx="562.43" cy="523.55" r="1.95" fill="#F7941D"/>
<circle cx="564.95" cy="523.71" r="1.95" fill="#F7941D"/>
<circle cx="563.42" cy="521.71" r="1.95" fill="#F7941D"/>
<line x1="568.6" y1="387.3" x2="568.6" y2="607" stroke="#555" stroke-width="0.7" stroke-dasharray="3 2"/>
<line x1="577.4" y1="387.3" x2="577.4" y2="607" stroke="#555" stroke-width="0.7" stroke-dasharray="3 2"/>
<line x1="585.9" y1="387.3" x2="585.9" y2="607" stroke="#555" stroke-width="0.7" stroke-dasharray="3 2"/>
<line x1="492.5" y1="543.2" x2="662.4" y2="543.2" stroke="#555" stroke-width="0.7" stroke-dasharray="3 2"/>
<text x="498.2" y="407" font-size="9.3" textLength="80.3" lengthAdjust="spacingAndGlyphs"><tspan font-style="italic">CASC11</tspan>-rs55705857</text>
<text x="498.2" y="456" font-size="9.3" textLength="71.7" lengthAdjust="spacingAndGlyphs"><tspan font-style="italic">RGS19</tspan>-rs2297440</text>
<text x="500" y="474.5" font-size="9.27" font-style="italic" fill="#3d3d3d" textLength="32.5" lengthAdjust="spacingAndGlyphs">POLR3B</text>
<text x="494.3" y="484.6" font-size="9.27" fill="#3d3d3d" textLength="44.4" lengthAdjust="spacingAndGlyphs">-rs3851634</text>
<text x="495.1" y="509.3" font-size="9.3" textLength="72.2" lengthAdjust="spacingAndGlyphs"><tspan font-style="italic">SOX18</tspan>-rs2297440</text>
<text x="499.2" y="535.3" font-size="9.3" textLength="64" lengthAdjust="spacingAndGlyphs"><tspan font-style="italic">KRR1</tspan>-rs3851634</text>
<line x1="558.3" y1="407.3" x2="565.6" y2="415.6" stroke="#3C5A80" stroke-width="0.6"/>
<line x1="538.2" y1="446.5" x2="550.2" y2="443.4" stroke="#3C5A80" stroke-width="0.6"/>
<line x1="510.2" y1="487.1" x2="505.4" y2="491.4" stroke="#3C5A80" stroke-width="0.6"/>
<line x1="545.4" y1="503.8" x2="549.5" y2="498.8" stroke="#3C5A80" stroke-width="0.6"/>
<line x1="529.5" y1="537.6" x2="524.6" y2="539.6" stroke="#3C5A80" stroke-width="0.6"/>
</svg>
</body></html>
